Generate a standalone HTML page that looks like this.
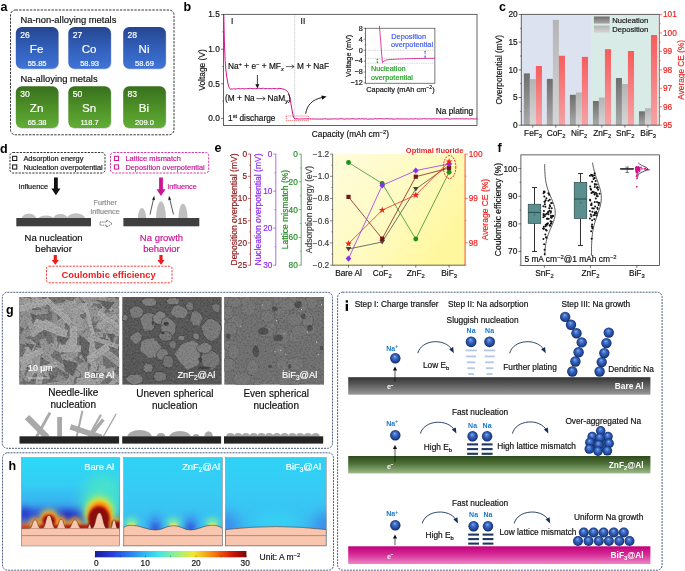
<!DOCTYPE html>
<html><head><meta charset="utf-8"><title>figure</title>
<style>html,body{margin:0;padding:0;background:#fff;}svg{display:block;will-change:transform;}text{font-family:"Liberation Sans",sans-serif;}</style></head>
<body>
<svg width="685" height="571" viewBox="0 0 685 571" font-family="Liberation Sans, sans-serif">
<defs>
<linearGradient id="gBlue" x1="0" y1="0" x2="0" y2="1"><stop offset="0" stop-color="#25468f"/><stop offset="0.55" stop-color="#3361bd"/><stop offset="1" stop-color="#3f74d6"/></linearGradient>
<linearGradient id="gGreen" x1="0" y1="0" x2="0" y2="1"><stop offset="0" stop-color="#38701d"/><stop offset="0.55" stop-color="#4f9328"/><stop offset="1" stop-color="#62ad36"/></linearGradient>
<linearGradient id="gNuc" x1="0" y1="0" x2="0" y2="1"><stop offset="0" stop-color="#6e6e6e"/><stop offset="1" stop-color="#a9a9a9"/></linearGradient>
<linearGradient id="gDep" x1="0" y1="0" x2="0" y2="1"><stop offset="0" stop-color="#b4b4b4"/><stop offset="1" stop-color="#d6d6d6"/></linearGradient>
<linearGradient id="gCE" x1="0" y1="0" x2="0" y2="1"><stop offset="0" stop-color="#f75c5c"/><stop offset="1" stop-color="#f5a3a6"/></linearGradient>
<linearGradient id="gYel" x1="0" y1="0" x2="1" y2="0.6"><stop offset="0" stop-color="#fffcdc"/><stop offset="0.55" stop-color="#fffbc2"/><stop offset="1" stop-color="#fff79d"/></linearGradient>
<filter id="fNoise" x="0" y="0" width="100%" height="100%"><feTurbulence type="fractalNoise" baseFrequency="0.55" numOctaves="2" seed="7"/><feColorMatrix type="matrix" values="1.6 0 0 0 -0.3  1.6 0 0 0 -0.3  1.6 0 0 0 -0.3  0 0 0 0 0.22"/></filter>
<filter id="fBlur06"><feGaussianBlur stdDeviation="0.6"/></filter>
<filter id="fBlur04"><feGaussianBlur stdDeviation="0.4"/></filter>
<filter id="fBlur1"><feGaussianBlur stdDeviation="1.0"/></filter>
<clipPath id="cS0"><rect x="19.2" y="297.0" width="100.0" height="87.80000000000001"/></clipPath>
<clipPath id="cS1"><rect x="122.2" y="297.0" width="99.60000000000001" height="87.80000000000001"/></clipPath>
<clipPath id="cS2"><rect x="224.2" y="297.0" width="100.0" height="87.80000000000001"/></clipPath>
<clipPath id="cN"><rect x="15" y="405" width="110" height="31.6"/></clipPath>
<clipPath id="cH0"><rect x="21.4" y="457.4" width="98.30000000000001" height="88.60000000000002"/></clipPath>
<clipPath id="cH1"><rect x="123.6" y="457.4" width="98.9" height="88.60000000000002"/></clipPath>
<clipPath id="cH2"><rect x="225.4" y="457.4" width="100.9" height="88.60000000000002"/></clipPath>
<linearGradient id="gCy" x1="0" y1="0" x2="0" y2="1"><stop offset="0" stop-color="#2fd3f6"/><stop offset="0.45" stop-color="#38c9f4"/><stop offset="1" stop-color="#3bb4f0"/></linearGradient>
<linearGradient id="gCy1" x1="0" y1="0" x2="0" y2="1"><stop offset="0" stop-color="#2cd8f6"/><stop offset="0.3" stop-color="#33cef5"/><stop offset="0.5" stop-color="#38b2f0"/><stop offset="0.66" stop-color="#3a86e6"/><stop offset="0.8" stop-color="#3a6ee0"/><stop offset="1" stop-color="#3a6ee0"/></linearGradient>
<filter id="fB1_2" x="-50%" y="-50%" width="200%" height="200%"><feGaussianBlur stdDeviation="1.2"/></filter>
<filter id="fB2_0" x="-50%" y="-50%" width="200%" height="200%"><feGaussianBlur stdDeviation="2.0"/></filter>
<filter id="fB3_0" x="-50%" y="-50%" width="200%" height="200%"><feGaussianBlur stdDeviation="3.0"/></filter>
<filter id="fB4_5" x="-50%" y="-50%" width="200%" height="200%"><feGaussianBlur stdDeviation="4.5"/></filter>
<filter id="fB6_5" x="-50%" y="-50%" width="200%" height="200%"><feGaussianBlur stdDeviation="6.5"/></filter>
<linearGradient id="gJet" x1="0" y1="0" x2="1" y2="0"><stop offset="0" stop-color="#1a1a9e"/><stop offset="0.12" stop-color="#2740e0"/><stop offset="0.3" stop-color="#2fa8f5"/><stop offset="0.42" stop-color="#3fe6e6"/><stop offset="0.55" stop-color="#a0f080"/><stop offset="0.65" stop-color="#f4e830"/><stop offset="0.78" stop-color="#f88010"/><stop offset="0.9" stop-color="#d81808"/><stop offset="1" stop-color="#7a0606"/></linearGradient>
<radialGradient id="gSph" cx="0.5" cy="0.5" fx="0.44" fy="0.3" r="0.52"><stop offset="0" stop-color="#8fb4f2"/><stop offset="0.22" stop-color="#5583d8"/><stop offset="0.5" stop-color="#315fb8"/><stop offset="0.78" stop-color="#1f4594"/><stop offset="1" stop-color="#0e2250"/></radialGradient>
<linearGradient id="gBarGy" x1="0" y1="0" x2="0" y2="1"><stop offset="0" stop-color="#333333"/><stop offset="0.45" stop-color="#5e5e5e"/><stop offset="1" stop-color="#9a9a9a"/></linearGradient>
<linearGradient id="gBarGn" x1="0" y1="0" x2="0" y2="1"><stop offset="0" stop-color="#2c4a1c"/><stop offset="0.45" stop-color="#4f7238"/><stop offset="1" stop-color="#9cb98a"/></linearGradient>
<linearGradient id="gBarPk" x1="0" y1="0" x2="0" y2="1"><stop offset="0" stop-color="#c00078"/><stop offset="0.45" stop-color="#d62a96"/><stop offset="1" stop-color="#ee84c8"/></linearGradient>
</defs>
<rect x="0" y="0" width="685" height="571" fill="#fff"/>
<text x="0.5" y="10.5" font-size="12.5" fill="#000" font-weight="bold">a</text>
<rect x="10.5" y="10" width="163.5" height="124.8" fill="none" stroke="#111" stroke-width="0.85" rx="5" stroke-dasharray="2.4 1.2"/>
<text x="20.5" y="22.7" font-size="9.4" fill="#111" stroke="#111" stroke-width="0.18">Na-non-alloying metals</text>
<text x="20.5" y="82.2" font-size="9.4" fill="#111" stroke="#111" stroke-width="0.18">Na-alloying metals</text>
<rect x="16.400000000000002" y="27.8" width="42.6" height="41.8" fill="#000" stroke="none" stroke-width="0.6" rx="6" opacity="0.18"/>
<rect x="15.8" y="27.0" width="42.6" height="41.8" fill="url(#gBlue)" stroke="none" stroke-width="0.6" rx="6"/>
<text x="20.200000000000003" y="37.6" font-size="8.6" fill="#fff" stroke="#fff" stroke-width="0.18">26</text>
<text x="36.6" y="52.6" font-size="11.6" fill="#fff" stroke="#fff" stroke-width="0.18" text-anchor="middle">Fe</text>
<text x="37.1" y="65.8" font-size="7.5" fill="#fff" stroke="#fff" stroke-width="0.18" text-anchor="middle">55.85</text>
<rect x="68.89999999999999" y="27.8" width="42.6" height="41.8" fill="#000" stroke="none" stroke-width="0.6" rx="6" opacity="0.18"/>
<rect x="68.3" y="27.0" width="42.6" height="41.8" fill="url(#gBlue)" stroke="none" stroke-width="0.6" rx="6"/>
<text x="72.7" y="37.6" font-size="8.6" fill="#fff" stroke="#fff" stroke-width="0.18">27</text>
<text x="89.1" y="52.6" font-size="11.6" fill="#fff" stroke="#fff" stroke-width="0.18" text-anchor="middle">Co</text>
<text x="89.6" y="65.8" font-size="7.5" fill="#fff" stroke="#fff" stroke-width="0.18" text-anchor="middle">58.93</text>
<rect x="123.8" y="27.8" width="42.6" height="41.8" fill="#000" stroke="none" stroke-width="0.6" rx="6" opacity="0.18"/>
<rect x="123.2" y="27.0" width="42.6" height="41.8" fill="url(#gBlue)" stroke="none" stroke-width="0.6" rx="6"/>
<text x="127.60000000000001" y="37.6" font-size="8.6" fill="#fff" stroke="#fff" stroke-width="0.18">28</text>
<text x="144.0" y="52.6" font-size="11.6" fill="#fff" stroke="#fff" stroke-width="0.18" text-anchor="middle">Ni</text>
<text x="144.5" y="65.8" font-size="7.5" fill="#fff" stroke="#fff" stroke-width="0.18" text-anchor="middle">58.69</text>
<rect x="16.400000000000002" y="87.0" width="42.6" height="41.8" fill="#000" stroke="none" stroke-width="0.6" rx="6" opacity="0.18"/>
<rect x="15.8" y="86.2" width="42.6" height="41.8" fill="url(#gGreen)" stroke="none" stroke-width="0.6" rx="6"/>
<text x="20.200000000000003" y="96.8" font-size="8.6" fill="#fff" stroke="#fff" stroke-width="0.18">30</text>
<text x="36.6" y="111.80000000000001" font-size="11.6" fill="#fff" stroke="#fff" stroke-width="0.18" text-anchor="middle">Zn</text>
<text x="37.1" y="125.0" font-size="7.5" fill="#fff" stroke="#fff" stroke-width="0.18" text-anchor="middle">65.38</text>
<rect x="68.89999999999999" y="87.0" width="42.6" height="41.8" fill="#000" stroke="none" stroke-width="0.6" rx="6" opacity="0.18"/>
<rect x="68.3" y="86.2" width="42.6" height="41.8" fill="url(#gGreen)" stroke="none" stroke-width="0.6" rx="6"/>
<text x="72.7" y="96.8" font-size="8.6" fill="#fff" stroke="#fff" stroke-width="0.18">50</text>
<text x="89.1" y="111.80000000000001" font-size="11.6" fill="#fff" stroke="#fff" stroke-width="0.18" text-anchor="middle">Sn</text>
<text x="89.6" y="125.0" font-size="7.5" fill="#fff" stroke="#fff" stroke-width="0.18" text-anchor="middle">118.7</text>
<rect x="123.8" y="87.0" width="42.6" height="41.8" fill="#000" stroke="none" stroke-width="0.6" rx="6" opacity="0.18"/>
<rect x="123.2" y="86.2" width="42.6" height="41.8" fill="url(#gGreen)" stroke="none" stroke-width="0.6" rx="6"/>
<text x="127.60000000000001" y="96.8" font-size="8.6" fill="#fff" stroke="#fff" stroke-width="0.18">83</text>
<text x="144.0" y="111.80000000000001" font-size="11.6" fill="#fff" stroke="#fff" stroke-width="0.18" text-anchor="middle">Bi</text>
<text x="144.5" y="125.0" font-size="7.5" fill="#fff" stroke="#fff" stroke-width="0.18" text-anchor="middle">209.0</text>
<text x="183.5" y="10.5" font-size="12.5" fill="#000" font-weight="bold">b</text>
<line x1="294.7" y1="14.3" x2="294.7" y2="125.5" stroke="#888" stroke-width="0.5" stroke-dasharray="1 1"/>
<rect x="223.6" y="14.3" width="253.4" height="111.2" fill="none" stroke="#222" stroke-width="0.7"/>
<line x1="221.0" y1="14.6" x2="223.6" y2="14.6" stroke="#222" stroke-width="0.6"/>
<text x="219.79999999999998" y="17.3" font-size="8.3" fill="#111" stroke="#111" stroke-width="0.18" text-anchor="end">1.5</text>
<line x1="221.0" y1="49.2" x2="223.6" y2="49.2" stroke="#222" stroke-width="0.6"/>
<text x="219.79999999999998" y="51.900000000000006" font-size="8.3" fill="#111" stroke="#111" stroke-width="0.18" text-anchor="end">1.0</text>
<line x1="221.0" y1="83.8" x2="223.6" y2="83.8" stroke="#222" stroke-width="0.6"/>
<text x="219.79999999999998" y="86.5" font-size="8.3" fill="#111" stroke="#111" stroke-width="0.18" text-anchor="end">0.5</text>
<line x1="221.0" y1="118.4" x2="223.6" y2="118.4" stroke="#222" stroke-width="0.6"/>
<text x="219.79999999999998" y="121.10000000000001" font-size="8.3" fill="#111" stroke="#111" stroke-width="0.18" text-anchor="end">0.0</text>
<line x1="222.2" y1="31.9" x2="223.6" y2="31.9" stroke="#222" stroke-width="0.5"/>
<line x1="222.2" y1="66.5" x2="223.6" y2="66.5" stroke="#222" stroke-width="0.5"/>
<line x1="222.2" y1="101.1" x2="223.6" y2="101.1" stroke="#222" stroke-width="0.5"/>
<text x="205.3" y="70" font-size="8.4" fill="#111" stroke="#111" stroke-width="0.18" text-anchor="middle" transform="rotate(-90 205.3 70)">Voltage (V)</text>
<text x="231.0" y="24.3" font-size="8.3" fill="#111" stroke="#111" stroke-width="0.18">I</text>
<text x="300.6" y="24.3" font-size="8.3" fill="#111" stroke="#111" stroke-width="0.18">II</text>
<path d="M223.8,14.5 L224.1,30 L224.4,42 L225.1,60.3 L225.9,70 L226.8,77 L227.8,83 L228.8,86.8 L229.6,88.6 L230.4,89.2 L231.0,88.87 L232.3,88.99 L233.6,88.87 L234.9,88.95 L236.2,88.93 L237.5,88.62 L238.8,88.56 L240.1,88.94 L241.4,88.62 L242.7,88.57 L244.0,88.92 L245.3,88.63 L246.6,88.78 L247.9,88.57 L249.2,88.61 L250.5,88.34 L251.8,88.57 L253.1,88.68 L254.4,88.51 L255.7,88.62 L257.0,88.59 L258.3,88.28 L259.6,88.63 L260.9,88.55 L262.2,88.4 L263.5,88.27 L264.8,88.68 L266.1,88.49 L267.4,88.61 L268.7,88.69 L270.0,88.61 L271.3,88.71 L272.6,88.45 L273.9,88.65 L275.2,88.47 L276.5,88.72 L277.8,88.69 L279.1,88.3 L282,88.8 L284.5,89.4 L286.5,90.5 L288.0,92.3 L289.1,94.8 L290.2,99.5 L291.2,105 L292.2,111 L293.1,115.6 L294.0,118.0 L295.2,119.0 L296,118.74 L297.7,118.78 L299.4,119.1 L301.1,118.87 L302.8,118.96 L304.5,118.81 L306.2,118.9 L307.9,118.85 L309.6,118.83 L311.3,118.94 L313.0,118.94 L314.7,119.08 L316.4,118.98 L318.1,119.09 L319.8,119.06 L321.5,119.12 L323.2,118.98 L324.9,118.75 L326.6,119.06 L328.3,119.1 L330.0,119.08 L331.7,118.93 L333.4,118.99 L335.1,118.77 L336.8,119.05 L338.5,118.93 L340.2,118.81 L341.9,118.71 L343.6,119.06 L345.3,119.12 L347.0,118.72 L348.7,119.03 L350.4,118.86 L352.1,118.75 L353.8,118.81 L355.5,119.02 L357.2,119.06 L358.9,118.7 L360.6,118.95 L362.3,118.7 L364.0,119.0 L365.7,118.83 L367.4,119.07 L369.1,119.11 L370.8,118.9 L372.5,119.12 L374.2,118.82 L375.9,118.71 L377.6,118.94 L379.3,118.69 L381.0,118.77 L382.7,118.86 L384.4,118.95 L386.1,118.75 L387.8,118.7 L389.5,119.06 L391.2,118.82 L392.9,119.1 L394.6,119.07 L396.3,118.85 L398.0,118.88 L399.7,118.91 L401.4,118.96 L403.1,118.94 L404.8,118.93 L406.5,118.95 L408.2,119.09 L409.9,118.9 L411.6,118.87 L413.3,119.0 L415.0,118.78 L416.7,118.81 L418.4,119.11 L420.1,118.91 L421.8,118.92 L423.5,118.69 L425.2,118.86 L426.9,118.94 L428.6,118.69 L430.3,118.95 L432.0,118.96 L433.7,118.71 L435.4,118.96 L437.1,118.89 L438.8,118.98 L440.5,118.84 L442.2,118.99 L443.9,119.0 L445.6,118.69 L447.3,118.71 L449.0,118.98 L450.7,119.1 L452.4,118.79 L454.1,118.88 L455.8,118.94 L457.5,118.82 L459.2,118.84 L460.9,118.82 L462.6,118.84 L464.3,118.94 L466.0,118.81 L467.7,118.85 L469.4,119.02 L471.1,118.69 L472.8,118.93 L474.5,119.0 L476.2,118.82 L477.5,118.9" fill="none" stroke="#d4148c" stroke-width="1.0" stroke-linejoin="round"/>
<text x="228.0" y="69.3" font-size="8.3" fill="#111" stroke="#111" stroke-width="0.18">Na<tspan dy="-2.99" font-size="5.81">+</tspan><tspan dy="2.99" font-size="0.1">&#8203;</tspan> + e<tspan dy="-2.99" font-size="5.81">&#8722;</tspan><tspan dy="2.99" font-size="0.1">&#8203;</tspan> + MF<tspan dy="1.66" font-size="5.81"><tspan font-style="italic">x</tspan></tspan><tspan dy="-1.66" font-size="0.1">&#8203;</tspan></text>
<text x="297.0" y="69.3" font-size="8.3" fill="#111" stroke="#111" stroke-width="0.18">M + NaF</text>
<path d="M285.8,66.6 H294.0 M291.6,64.8 L294.2,66.6 L291.6,68.4" fill="none" stroke="#111" stroke-width="0.65"/>
<line x1="257.4" y1="75.0" x2="257.4" y2="85.0" stroke="#111" stroke-width="0.8"/>
<path d="M255.4,84.2 L257.4,88.6 L259.4,84.2 Z" fill="#111" stroke="none" stroke-width="0.6"/>
<text x="225.0" y="101.3" font-size="8.3" fill="#111" stroke="#111" stroke-width="0.18">(M + Na</text>
<text x="267.6" y="101.3" font-size="8.3" fill="#111" stroke="#111" stroke-width="0.18">NaM<tspan dy="1.66" font-size="5.81"><tspan font-style="italic">y</tspan></tspan><tspan dy="-1.66" font-size="0.1">&#8203;</tspan>)</text>
<path d="M256.4,98.6 H265.0 M262.6,96.8 L265.2,98.6 L262.6,100.4" fill="none" stroke="#111" stroke-width="0.65"/>
<text x="228.0" y="120.9" font-size="8.3" fill="#111" stroke="#111" stroke-width="0.18">1<tspan dy="-2.99" font-size="5.81">st</tspan><tspan dy="2.99" font-size="0.1">&#8203;</tspan> discharge</text>
<rect x="286.3" y="116.0" width="22.0" height="4.6" fill="none" stroke="#e8211d" stroke-width="0.6" stroke-dasharray="1.2 0.8"/>
<path d="M305.7,113.8 C306.8,105.5 312,99.5 322.5,97.4" fill="none" stroke="#111" stroke-width="0.9"/>
<path d="M321.3,95.4 L326.6,96.6 L322.2,99.7 Z" fill="#111" stroke="none" stroke-width="0.6"/>
<text x="311.8" y="137.3" font-size="8.3" fill="#111" stroke="#111" stroke-width="0.18">Capacity (mAh cm<tspan dy="-2.99" font-size="5.81">&#8722;2</tspan><tspan dy="2.99" font-size="0.1">&#8203;</tspan>)</text>
<text x="435.8" y="114.4" font-size="8.3" fill="#111" stroke="#111" stroke-width="0.18">Na plating</text>
<rect x="365.6" y="28.2" width="69.29999999999995" height="55.0" fill="#fff" stroke="#222" stroke-width="0.6"/>
<line x1="363.6" y1="28.3" x2="365.6" y2="28.3" stroke="#222" stroke-width="0.5"/>
<text x="362.8" y="30.6" font-size="7.2" fill="#111" stroke="#111" stroke-width="0.18" text-anchor="end">8</text>
<line x1="363.6" y1="39.2" x2="365.6" y2="39.2" stroke="#222" stroke-width="0.5"/>
<text x="362.8" y="41.5" font-size="7.2" fill="#111" stroke="#111" stroke-width="0.18" text-anchor="end">4</text>
<line x1="363.6" y1="50.2" x2="365.6" y2="50.2" stroke="#222" stroke-width="0.5"/>
<text x="362.8" y="52.5" font-size="7.2" fill="#111" stroke="#111" stroke-width="0.18" text-anchor="end">0</text>
<line x1="363.6" y1="61.1" x2="365.6" y2="61.1" stroke="#222" stroke-width="0.5"/>
<text x="362.8" y="63.4" font-size="7.2" fill="#111" stroke="#111" stroke-width="0.18" text-anchor="end">&#8722;4</text>
<line x1="363.6" y1="72.0" x2="365.6" y2="72.0" stroke="#222" stroke-width="0.5"/>
<text x="362.8" y="74.3" font-size="7.2" fill="#111" stroke="#111" stroke-width="0.18" text-anchor="end">&#8722;8</text>
<line x1="363.6" y1="82.9" x2="365.6" y2="82.9" stroke="#222" stroke-width="0.5"/>
<text x="362.8" y="85.2" font-size="7.2" fill="#111" stroke="#111" stroke-width="0.18" text-anchor="end">&#8722;12</text>
<line x1="364.5" y1="33.7" x2="365.6" y2="33.7" stroke="#222" stroke-width="0.4"/>
<line x1="364.5" y1="44.7" x2="365.6" y2="44.7" stroke="#222" stroke-width="0.4"/>
<line x1="364.5" y1="55.6" x2="365.6" y2="55.6" stroke="#222" stroke-width="0.4"/>
<line x1="364.5" y1="66.5" x2="365.6" y2="66.5" stroke="#222" stroke-width="0.4"/>
<line x1="364.5" y1="77.5" x2="365.6" y2="77.5" stroke="#222" stroke-width="0.4"/>
<text x="351.0" y="55.8" font-size="7.3" fill="#111" stroke="#111" stroke-width="0.18" text-anchor="middle" transform="rotate(-90 351.0 55.8)">Voltage (mV)</text>
<text x="366.3" y="92.0" font-size="7.35" fill="#111" stroke="#111" stroke-width="0.18">Capacity (mAh cm<tspan dy="-2.65" font-size="5.14">&#8722;2</tspan><tspan dy="2.65" font-size="0.1">&#8203;</tspan>)</text>
<line x1="365.6" y1="50.2" x2="434.9" y2="50.2" stroke="#999" stroke-width="0.45" stroke-dasharray="1.3 1"/>
<line x1="365.6" y1="58.3" x2="434.9" y2="58.3" stroke="#999" stroke-width="0.45" stroke-dasharray="1.3 1"/>
<line x1="365.6" y1="63.2" x2="434.9" y2="63.2" stroke="#999" stroke-width="0.45" stroke-dasharray="1.3 1"/>
<path d="M379.4,25.8 L380.6,40 L381.8,56 L382.6,62.6 L383.6,61.4 L385.5,60.2 L389,59.6 L396,59.2 L405,58.8 L415,58.5 L425,58.4 L434.9,58.3" fill="none" stroke="#d4148c" stroke-width="0.8" stroke-linejoin="round"/>
<text x="391.3" y="38.8" font-size="7.35" fill="#3b57f5" stroke="#3b57f5" stroke-width="0.18">Deposition</text>
<text x="391.0" y="47.4" font-size="7.35" fill="#3b57f5" stroke="#3b57f5" stroke-width="0.18">overpotential</text>
<text x="370.9" y="71.1" font-size="7.35" fill="#1f9e1f" stroke="#1f9e1f" stroke-width="0.18">Nucleation</text>
<text x="370.9" y="80.2" font-size="7.35" fill="#1f9e1f" stroke="#1f9e1f" stroke-width="0.18">overpotential</text>
<line x1="425.1" y1="51.3" x2="425.1" y2="57.3" stroke="#3b57f5" stroke-width="0.8" stroke-dasharray="1 0.7"/>
<path d="M424.0,52.2 L425.1,50.4 L426.2,52.2 Z M424.0,56.4 L425.1,58.2 L426.2,56.4 Z" fill="#3b57f5" stroke="none" stroke-width="0.6"/>
<line x1="377.3" y1="59.4" x2="377.3" y2="62.6" stroke="#1f9e1f" stroke-width="0.8" stroke-dasharray="1 0.7"/>
<path d="M376.3,59.9 L377.3,58.5 L378.3,59.9 Z M376.3,62 L377.3,63.4 L378.3,62 Z" fill="#1f9e1f" stroke="none" stroke-width="0.6"/>
<text x="499" y="10.5" font-size="12.5" fill="#000" font-weight="bold">c</text>
<rect x="521.3" y="14.4" width="69.70000000000005" height="110.8" fill="#dde2f0" stroke="none" stroke-width="0.6"/>
<rect x="591.0" y="14.4" width="68.39999999999998" height="110.8" fill="#d9ebe6" stroke="none" stroke-width="0.6"/>
<rect x="523.8499999999999" y="73.4" width="6.0" height="51.8" fill="url(#gNuc)" stroke="none" stroke-width="0.6"/>
<rect x="529.8499999999999" y="79.1" width="6.0" height="46.10000000000001" fill="url(#gDep)" stroke="none" stroke-width="0.6"/>
<rect x="535.8499999999999" y="66.0" width="6.1" height="59.2" fill="url(#gCE)" stroke="none" stroke-width="0.6"/>
<rect x="546.8699999999999" y="78.9" width="6.0" height="46.3" fill="url(#gNuc)" stroke="none" stroke-width="0.6"/>
<rect x="552.8699999999999" y="19.9" width="6.0" height="105.30000000000001" fill="url(#gDep)" stroke="none" stroke-width="0.6"/>
<rect x="558.8699999999999" y="55.8" width="6.1" height="69.4" fill="url(#gCE)" stroke="none" stroke-width="0.6"/>
<rect x="569.8899999999999" y="94.8" width="6.0" height="30.400000000000006" fill="url(#gNuc)" stroke="none" stroke-width="0.6"/>
<rect x="575.8899999999999" y="92.5" width="6.0" height="32.7" fill="url(#gDep)" stroke="none" stroke-width="0.6"/>
<rect x="581.8899999999999" y="56.9" width="6.1" height="68.30000000000001" fill="url(#gCE)" stroke="none" stroke-width="0.6"/>
<rect x="592.9099999999999" y="101.0" width="6.0" height="24.200000000000003" fill="url(#gNuc)" stroke="none" stroke-width="0.6"/>
<rect x="598.9099999999999" y="97.6" width="6.0" height="27.60000000000001" fill="url(#gDep)" stroke="none" stroke-width="0.6"/>
<rect x="604.9099999999999" y="49.2" width="6.1" height="76.0" fill="url(#gCE)" stroke="none" stroke-width="0.6"/>
<rect x="615.93" y="78.0" width="6.0" height="47.2" fill="url(#gNuc)" stroke="none" stroke-width="0.6"/>
<rect x="621.93" y="84.0" width="6.0" height="41.2" fill="url(#gDep)" stroke="none" stroke-width="0.6"/>
<rect x="627.93" y="51.0" width="6.1" height="74.2" fill="url(#gCE)" stroke="none" stroke-width="0.6"/>
<rect x="638.9499999999999" y="111.3" width="6.0" height="13.900000000000006" fill="url(#gNuc)" stroke="none" stroke-width="0.6"/>
<rect x="644.9499999999999" y="108.2" width="6.0" height="17.0" fill="url(#gDep)" stroke="none" stroke-width="0.6"/>
<rect x="650.9499999999999" y="35.0" width="6.1" height="90.2" fill="url(#gCE)" stroke="none" stroke-width="0.6"/>
<line x1="521.3" y1="14.4" x2="659.4" y2="14.4" stroke="#222" stroke-width="0.7"/>
<line x1="521.3" y1="125.2" x2="659.4" y2="125.2" stroke="#222" stroke-width="0.7"/>
<line x1="521.3" y1="14.05" x2="521.3" y2="125.55" stroke="#222" stroke-width="0.7"/>
<line x1="659.4" y1="14.05" x2="659.4" y2="125.55" stroke="#f0221e" stroke-width="0.8"/>
<line x1="518.6999999999999" y1="14.5" x2="521.3" y2="14.5" stroke="#222" stroke-width="0.6"/>
<text x="517.6999999999999" y="17.4" font-size="8.3" fill="#111" stroke="#111" stroke-width="0.18" text-anchor="end">20</text>
<line x1="518.6999999999999" y1="42.2" x2="521.3" y2="42.2" stroke="#222" stroke-width="0.6"/>
<text x="517.6999999999999" y="45.1" font-size="8.3" fill="#111" stroke="#111" stroke-width="0.18" text-anchor="end">15</text>
<line x1="518.6999999999999" y1="69.9" x2="521.3" y2="69.9" stroke="#222" stroke-width="0.6"/>
<text x="517.6999999999999" y="72.80000000000001" font-size="8.3" fill="#111" stroke="#111" stroke-width="0.18" text-anchor="end">10</text>
<line x1="518.6999999999999" y1="97.5" x2="521.3" y2="97.5" stroke="#222" stroke-width="0.6"/>
<text x="517.6999999999999" y="100.4" font-size="8.3" fill="#111" stroke="#111" stroke-width="0.18" text-anchor="end">5</text>
<line x1="518.6999999999999" y1="125.2" x2="521.3" y2="125.2" stroke="#222" stroke-width="0.6"/>
<text x="517.6999999999999" y="128.1" font-size="8.3" fill="#111" stroke="#111" stroke-width="0.18" text-anchor="end">0</text>
<line x1="519.9" y1="28.3" x2="521.3" y2="28.3" stroke="#222" stroke-width="0.5"/>
<line x1="519.9" y1="56.0" x2="521.3" y2="56.0" stroke="#222" stroke-width="0.5"/>
<line x1="519.9" y1="83.7" x2="521.3" y2="83.7" stroke="#222" stroke-width="0.5"/>
<line x1="519.9" y1="111.4" x2="521.3" y2="111.4" stroke="#222" stroke-width="0.5"/>
<line x1="659.4" y1="14.5" x2="662.0" y2="14.5" stroke="#f0221e" stroke-width="0.6"/>
<text x="663.0" y="17.4" font-size="8.3" fill="#f0221e" stroke="#f0221e" stroke-width="0.18">101</text>
<line x1="659.4" y1="32.95" x2="662.0" y2="32.95" stroke="#f0221e" stroke-width="0.6"/>
<text x="663.0" y="35.85" font-size="8.3" fill="#f0221e" stroke="#f0221e" stroke-width="0.18">100</text>
<line x1="659.4" y1="51.4" x2="662.0" y2="51.4" stroke="#f0221e" stroke-width="0.6"/>
<text x="663.0" y="54.3" font-size="8.3" fill="#f0221e" stroke="#f0221e" stroke-width="0.18">99</text>
<line x1="659.4" y1="69.85" x2="662.0" y2="69.85" stroke="#f0221e" stroke-width="0.6"/>
<text x="663.0" y="72.75" font-size="8.3" fill="#f0221e" stroke="#f0221e" stroke-width="0.18">98</text>
<line x1="659.4" y1="88.3" x2="662.0" y2="88.3" stroke="#f0221e" stroke-width="0.6"/>
<text x="663.0" y="91.2" font-size="8.3" fill="#f0221e" stroke="#f0221e" stroke-width="0.18">97</text>
<line x1="659.4" y1="106.75" x2="662.0" y2="106.75" stroke="#f0221e" stroke-width="0.6"/>
<text x="663.0" y="109.65" font-size="8.3" fill="#f0221e" stroke="#f0221e" stroke-width="0.18">96</text>
<line x1="659.4" y1="125.19999999999999" x2="662.0" y2="125.19999999999999" stroke="#f0221e" stroke-width="0.6"/>
<text x="663.0" y="128.1" font-size="8.3" fill="#f0221e" stroke="#f0221e" stroke-width="0.18">95</text>
<line x1="659.4" y1="23.72" x2="660.8" y2="23.72" stroke="#f0221e" stroke-width="0.5"/>
<line x1="659.4" y1="42.17" x2="660.8" y2="42.17" stroke="#f0221e" stroke-width="0.5"/>
<line x1="659.4" y1="60.62" x2="660.8" y2="60.62" stroke="#f0221e" stroke-width="0.5"/>
<line x1="659.4" y1="79.07" x2="660.8" y2="79.07" stroke="#f0221e" stroke-width="0.5"/>
<line x1="659.4" y1="97.52" x2="660.8" y2="97.52" stroke="#f0221e" stroke-width="0.5"/>
<line x1="659.4" y1="115.97" x2="660.8" y2="115.97" stroke="#f0221e" stroke-width="0.5"/>
<line x1="532.8" y1="125.2" x2="532.8" y2="127.60000000000001" stroke="#222" stroke-width="0.6"/>
<text x="533.0999999999999" y="136.0" font-size="8.3" fill="#111" stroke="#111" stroke-width="0.18" text-anchor="middle">FeF<tspan dy="1.66" font-size="5.81">3</tspan><tspan dy="-1.66" font-size="0.1">&#8203;</tspan></text>
<line x1="555.8199999999999" y1="125.2" x2="555.8199999999999" y2="127.60000000000001" stroke="#222" stroke-width="0.6"/>
<text x="556.1199999999999" y="136.0" font-size="8.3" fill="#111" stroke="#111" stroke-width="0.18" text-anchor="middle">CoF<tspan dy="1.66" font-size="5.81">2</tspan><tspan dy="-1.66" font-size="0.1">&#8203;</tspan></text>
<line x1="578.8399999999999" y1="125.2" x2="578.8399999999999" y2="127.60000000000001" stroke="#222" stroke-width="0.6"/>
<text x="579.1399999999999" y="136.0" font-size="8.3" fill="#111" stroke="#111" stroke-width="0.18" text-anchor="middle">NiF<tspan dy="1.66" font-size="5.81">2</tspan><tspan dy="-1.66" font-size="0.1">&#8203;</tspan></text>
<line x1="601.8599999999999" y1="125.2" x2="601.8599999999999" y2="127.60000000000001" stroke="#222" stroke-width="0.6"/>
<text x="602.1599999999999" y="136.0" font-size="8.3" fill="#111" stroke="#111" stroke-width="0.18" text-anchor="middle">ZnF<tspan dy="1.66" font-size="5.81">2</tspan><tspan dy="-1.66" font-size="0.1">&#8203;</tspan></text>
<line x1="624.88" y1="125.2" x2="624.88" y2="127.60000000000001" stroke="#222" stroke-width="0.6"/>
<text x="625.18" y="136.0" font-size="8.3" fill="#111" stroke="#111" stroke-width="0.18" text-anchor="middle">SnF<tspan dy="1.66" font-size="5.81">2</tspan><tspan dy="-1.66" font-size="0.1">&#8203;</tspan></text>
<line x1="647.9" y1="125.2" x2="647.9" y2="127.60000000000001" stroke="#222" stroke-width="0.6"/>
<text x="648.1999999999999" y="136.0" font-size="8.3" fill="#111" stroke="#111" stroke-width="0.18" text-anchor="middle">BiF<tspan dy="1.66" font-size="5.81">3</tspan><tspan dy="-1.66" font-size="0.1">&#8203;</tspan></text>
<text x="502.3" y="69.8" font-size="8.3" fill="#111" stroke="#111" stroke-width="0.18" text-anchor="middle" transform="rotate(-90 502.3 69.8)">Overpotential (mV)</text>
<text x="684.3" y="69.8" font-size="8.3" fill="#f0221e" stroke="#f0221e" stroke-width="0.18" text-anchor="middle" transform="rotate(-90 684.3 69.8)">Average CE (%)</text>
<rect x="593.9" y="16.5" width="15.8" height="7.1" fill="url(#gNuc)" stroke="none" stroke-width="0.6"/>
<rect x="593.9" y="25.6" width="15.8" height="7.1" fill="url(#gDep)" stroke="none" stroke-width="0.6"/>
<text x="612.3" y="23.0" font-size="7.6" fill="#111" stroke="#111" stroke-width="0.18">Nucleation</text>
<text x="612.3" y="32.1" font-size="7.6" fill="#111" stroke="#111" stroke-width="0.18">Deposition</text>
<text x="0.1" y="153.0" font-size="12.5" fill="#000" font-weight="bold">d</text>
<rect x="10.0" y="152.5" width="95.0" height="20.5" fill="none" stroke="#111" stroke-width="0.85" rx="3" stroke-dasharray="2.2 1.2"/>
<rect x="110.5" y="152.5" width="98.2" height="20.5" fill="none" stroke="#cc1494" stroke-width="0.85" rx="3" stroke-dasharray="2.2 1.2"/>
<rect x="12.6" y="156.3" width="4.2" height="4.2" fill="none" stroke="#111" stroke-width="1.0"/>
<rect x="114.4" y="156.3" width="4.2" height="4.2" fill="none" stroke="#cc1494" stroke-width="1.0"/>
<rect x="12.6" y="164.9" width="4.2" height="4.2" fill="none" stroke="#111" stroke-width="1.0"/>
<rect x="114.4" y="164.9" width="4.2" height="4.2" fill="none" stroke="#cc1494" stroke-width="1.0"/>
<text x="23.4" y="161.3" font-size="7.4" fill="#111" stroke="#111" stroke-width="0.18">Adsorption energy</text>
<text x="23.4" y="169.9" font-size="7.4" fill="#111" stroke="#111" stroke-width="0.18">Nucleation overpotential</text>
<text x="125.4" y="161.3" font-size="7.4" fill="#cc1494" stroke="#cc1494" stroke-width="0.18">Lattice mismatch</text>
<text x="125.4" y="169.9" font-size="7.4" fill="#cc1494" stroke="#cc1494" stroke-width="0.18">Deposition overpotential</text>
<path d="M54.0,177.6 h3.8 v11.0 h2.6 l-4.5,6.6 l-4.5,-6.6 h2.6 Z" fill="#111" stroke="none" stroke-width="0.6"/>
<path d="M159.1,177.6 h3.8 v11.6 h2.6 l-4.5,6.8 l-4.5,-6.8 h2.6 Z" fill="#cc1494" stroke="none" stroke-width="0.6"/>
<text x="18.8" y="188.6" font-size="7.3" fill="#111" stroke="#111" stroke-width="0.18">influence</text>
<text x="167.6" y="188.6" font-size="7.3" fill="#cc1494" stroke="#cc1494" stroke-width="0.18">influence</text>
<path d="M21.8,219 A7.2,5.6 0 0 1 36.2,219 Z" fill="#bfbfbf" stroke="none" stroke-width="0.6"/>
<path d="M38.4,219 A7.6,3.4 0 0 1 53.6,219 Z" fill="#bfbfbf" stroke="none" stroke-width="0.6"/>
<path d="M53.1,219 A7.4,5.0 0 0 1 67.9,219 Z" fill="#bfbfbf" stroke="none" stroke-width="0.6"/>
<path d="M66.8,219 A9.2,5.8 0 0 1 85.2,219 Z" fill="#bfbfbf" stroke="none" stroke-width="0.6"/>
<rect x="16.3" y="218.0" width="74.7" height="8.3" fill="#3f3f3f" stroke="none" stroke-width="0.6"/>
<path d="M137.8,219 A4.2,11.0 0 0 1 146.2,219 Z" fill="#bfbfbf" stroke="none" stroke-width="0.6"/>
<path d="M156.0,219 A5.0,17.5 0 0 1 166.0,219 Z" fill="#bfbfbf" stroke="none" stroke-width="0.6"/>
<path d="M178.4,219 A4.6,15.2 0 0 1 187.6,219 Z" fill="#bfbfbf" stroke="none" stroke-width="0.6"/>
<rect x="123.4" y="218.0" width="75.9" height="8.3" fill="#3f3f3f" stroke="none" stroke-width="0.6"/>
<line x1="150.0" y1="214.5" x2="153.6" y2="198.5" stroke="#111" stroke-width="0.7"/>
<path d="M152.2,199.6 L154.2,195.8 L154.9,200.2 Z" fill="#111" stroke="none" stroke-width="0.6"/>
<line x1="173.5" y1="214.5" x2="169.6" y2="198.5" stroke="#111" stroke-width="0.7"/>
<path d="M168.3,200.2 L169.0,195.8 L171.0,199.6 Z" fill="#111" stroke="none" stroke-width="0.6"/>
<text x="105.2" y="205.3" font-size="7.3" fill="#8c8c8c" stroke="#8c8c8c" stroke-width="0.18" text-anchor="middle">Further</text>
<text x="105.2" y="213.9" font-size="7.3" fill="#8c8c8c" stroke="#8c8c8c" stroke-width="0.18" text-anchor="middle">influence</text>
<path d="M100.0,222.0 h6.6 v-2.0 l5.6,3.6 l-5.6,3.6 v-2.0 h-6.6 Z" fill="#fff" stroke="#222" stroke-width="0.6" stroke-dasharray="1.5 0.7"/>
<text x="53.6" y="240.5" font-size="9.5" fill="#111" stroke="#111" stroke-width="0.18" text-anchor="middle">Na nucleation</text>
<text x="53.6" y="251.6" font-size="9.5" fill="#111" stroke="#111" stroke-width="0.18" text-anchor="middle">behavior</text>
<text x="161.5" y="240.5" font-size="9.5" fill="#cc1494" stroke="#cc1494" stroke-width="0.18" text-anchor="middle">Na growth</text>
<text x="161.5" y="251.6" font-size="9.5" fill="#cc1494" stroke="#cc1494" stroke-width="0.18" text-anchor="middle">behavior</text>
<path d="M53.699999999999996,255.0 h3.2 v5.0 h2.0 l-3.6,4.8 l-3.6,-4.8 h2.0 Z" fill="#ee1c1c" stroke="none" stroke-width="0.6"/>
<path d="M159.4,255.0 h3.2 v5.0 h2.0 l-3.6,4.8 l-3.6,-4.8 h2.0 Z" fill="#ee1c1c" stroke="none" stroke-width="0.6"/>
<rect x="46.5" y="266.2" width="125.5" height="16.6" fill="none" stroke="#ee1c1c" stroke-width="0.85" rx="2.5" stroke-dasharray="2.2 1.2"/>
<text x="108.6" y="277.6" font-size="9.4" fill="#ee1c1c" font-weight="bold" text-anchor="middle">Coulombic efficiency</text>
<text x="214.5" y="152.3" font-size="12.5" fill="#000" font-weight="bold">e</text>
<rect x="332.6" y="154.1" width="132.5" height="111.1" fill="url(#gYel)" stroke="none" stroke-width="0.6"/>
<line x1="250.5" y1="153.79999999999998" x2="250.5" y2="265.5" stroke="#8e1a1a" stroke-width="0.7"/>
<line x1="247.9" y1="154.1" x2="250.5" y2="154.1" stroke="#8e1a1a" stroke-width="0.6"/>
<text x="247.1" y="157.0" font-size="8.3" fill="#8e1a1a" stroke="#8e1a1a" stroke-width="0.18" text-anchor="end">0</text>
<line x1="247.9" y1="176.32" x2="250.5" y2="176.32" stroke="#8e1a1a" stroke-width="0.6"/>
<text x="247.1" y="179.22" font-size="8.3" fill="#8e1a1a" stroke="#8e1a1a" stroke-width="0.18" text-anchor="end">5</text>
<line x1="247.9" y1="198.54" x2="250.5" y2="198.54" stroke="#8e1a1a" stroke-width="0.6"/>
<text x="247.1" y="201.44" font-size="8.3" fill="#8e1a1a" stroke="#8e1a1a" stroke-width="0.18" text-anchor="end">10</text>
<line x1="247.9" y1="220.76" x2="250.5" y2="220.76" stroke="#8e1a1a" stroke-width="0.6"/>
<text x="247.1" y="223.66" font-size="8.3" fill="#8e1a1a" stroke="#8e1a1a" stroke-width="0.18" text-anchor="end">15</text>
<line x1="247.9" y1="242.98" x2="250.5" y2="242.98" stroke="#8e1a1a" stroke-width="0.6"/>
<text x="247.1" y="245.88" font-size="8.3" fill="#8e1a1a" stroke="#8e1a1a" stroke-width="0.18" text-anchor="end">20</text>
<line x1="247.9" y1="265.2" x2="250.5" y2="265.2" stroke="#8e1a1a" stroke-width="0.6"/>
<text x="247.1" y="268.09999999999997" font-size="8.3" fill="#8e1a1a" stroke="#8e1a1a" stroke-width="0.18" text-anchor="end">25</text>
<line x1="249.1" y1="165.20999999999998" x2="250.5" y2="165.20999999999998" stroke="#8e1a1a" stroke-width="0.5"/>
<line x1="249.1" y1="187.43" x2="250.5" y2="187.43" stroke="#8e1a1a" stroke-width="0.5"/>
<line x1="249.1" y1="209.64999999999998" x2="250.5" y2="209.64999999999998" stroke="#8e1a1a" stroke-width="0.5"/>
<line x1="249.1" y1="231.87" x2="250.5" y2="231.87" stroke="#8e1a1a" stroke-width="0.5"/>
<line x1="249.1" y1="254.08999999999997" x2="250.5" y2="254.08999999999997" stroke="#8e1a1a" stroke-width="0.5"/>
<text x="237.0" y="209.5" font-size="8.5" fill="#8e1a1a" stroke="#8e1a1a" stroke-width="0.18" text-anchor="middle" transform="rotate(-90 237.0 209.5)">Deposition overpotential (mV)</text>
<line x1="275.8" y1="153.79999999999998" x2="275.8" y2="265.5" stroke="#8d2df0" stroke-width="0.7"/>
<line x1="273.2" y1="154.1" x2="275.8" y2="154.1" stroke="#8d2df0" stroke-width="0.6"/>
<text x="272.40000000000003" y="157.0" font-size="8.3" fill="#8d2df0" stroke="#8d2df0" stroke-width="0.18" text-anchor="end">0</text>
<line x1="273.2" y1="191.13333333333333" x2="275.8" y2="191.13333333333333" stroke="#8d2df0" stroke-width="0.6"/>
<text x="272.40000000000003" y="194.03333333333333" font-size="8.3" fill="#8d2df0" stroke="#8d2df0" stroke-width="0.18" text-anchor="end">10</text>
<line x1="273.2" y1="228.16666666666666" x2="275.8" y2="228.16666666666666" stroke="#8d2df0" stroke-width="0.6"/>
<text x="272.40000000000003" y="231.06666666666666" font-size="8.3" fill="#8d2df0" stroke="#8d2df0" stroke-width="0.18" text-anchor="end">20</text>
<line x1="273.2" y1="265.2" x2="275.8" y2="265.2" stroke="#8d2df0" stroke-width="0.6"/>
<text x="272.40000000000003" y="268.09999999999997" font-size="8.3" fill="#8d2df0" stroke="#8d2df0" stroke-width="0.18" text-anchor="end">30</text>
<line x1="274.40000000000003" y1="172.61666666666667" x2="275.8" y2="172.61666666666667" stroke="#8d2df0" stroke-width="0.5"/>
<line x1="274.40000000000003" y1="209.64999999999998" x2="275.8" y2="209.64999999999998" stroke="#8d2df0" stroke-width="0.5"/>
<line x1="274.40000000000003" y1="246.68333333333334" x2="275.8" y2="246.68333333333334" stroke="#8d2df0" stroke-width="0.5"/>
<text x="261.4" y="209.5" font-size="8.5" fill="#8d2df0" stroke="#8d2df0" stroke-width="0.18" text-anchor="middle" transform="rotate(-90 261.4 209.5)">Nucleation overpotential (mV)</text>
<line x1="301.2" y1="153.79999999999998" x2="301.2" y2="265.5" stroke="#2a8c2a" stroke-width="0.7"/>
<line x1="298.59999999999997" y1="154.1" x2="301.2" y2="154.1" stroke="#2a8c2a" stroke-width="0.6"/>
<text x="297.8" y="157.0" font-size="8.3" fill="#2a8c2a" stroke="#2a8c2a" stroke-width="0.18" text-anchor="end">0</text>
<line x1="298.59999999999997" y1="181.875" x2="301.2" y2="181.875" stroke="#2a8c2a" stroke-width="0.6"/>
<text x="297.8" y="184.775" font-size="8.3" fill="#2a8c2a" stroke="#2a8c2a" stroke-width="0.18" text-anchor="end">20</text>
<line x1="298.59999999999997" y1="209.64999999999998" x2="301.2" y2="209.64999999999998" stroke="#2a8c2a" stroke-width="0.6"/>
<text x="297.8" y="212.54999999999998" font-size="8.3" fill="#2a8c2a" stroke="#2a8c2a" stroke-width="0.18" text-anchor="end">40</text>
<line x1="298.59999999999997" y1="237.425" x2="301.2" y2="237.425" stroke="#2a8c2a" stroke-width="0.6"/>
<text x="297.8" y="240.32500000000002" font-size="8.3" fill="#2a8c2a" stroke="#2a8c2a" stroke-width="0.18" text-anchor="end">60</text>
<line x1="298.59999999999997" y1="265.2" x2="301.2" y2="265.2" stroke="#2a8c2a" stroke-width="0.6"/>
<text x="297.8" y="268.09999999999997" font-size="8.3" fill="#2a8c2a" stroke="#2a8c2a" stroke-width="0.18" text-anchor="end">80</text>
<line x1="299.8" y1="167.98749999999998" x2="301.2" y2="167.98749999999998" stroke="#2a8c2a" stroke-width="0.5"/>
<line x1="299.8" y1="195.7625" x2="301.2" y2="195.7625" stroke="#2a8c2a" stroke-width="0.5"/>
<line x1="299.8" y1="223.5375" x2="301.2" y2="223.5375" stroke="#2a8c2a" stroke-width="0.5"/>
<line x1="299.8" y1="251.3125" x2="301.2" y2="251.3125" stroke="#2a8c2a" stroke-width="0.5"/>
<text x="287.6" y="209.5" font-size="8.5" fill="#2a8c2a" stroke="#2a8c2a" stroke-width="0.18" text-anchor="middle" transform="rotate(-90 287.6 209.5)">Lattice mismatch (%)</text>
<line x1="332.6" y1="153.79999999999998" x2="332.6" y2="265.5" stroke="#404040" stroke-width="0.7"/>
<line x1="330.0" y1="154.1" x2="332.6" y2="154.1" stroke="#404040" stroke-width="0.6"/>
<text x="329.20000000000005" y="157.0" font-size="8.3" fill="#404040" stroke="#404040" stroke-width="0.18" text-anchor="end">&#8722;1.2</text>
<line x1="330.0" y1="176.32" x2="332.6" y2="176.32" stroke="#404040" stroke-width="0.6"/>
<text x="329.20000000000005" y="179.22" font-size="8.3" fill="#404040" stroke="#404040" stroke-width="0.18" text-anchor="end">&#8722;1.0</text>
<line x1="330.0" y1="198.54" x2="332.6" y2="198.54" stroke="#404040" stroke-width="0.6"/>
<text x="329.20000000000005" y="201.44" font-size="8.3" fill="#404040" stroke="#404040" stroke-width="0.18" text-anchor="end">&#8722;0.8</text>
<line x1="330.0" y1="220.76" x2="332.6" y2="220.76" stroke="#404040" stroke-width="0.6"/>
<text x="329.20000000000005" y="223.66" font-size="8.3" fill="#404040" stroke="#404040" stroke-width="0.18" text-anchor="end">&#8722;0.6</text>
<line x1="330.0" y1="242.97999999999996" x2="332.6" y2="242.97999999999996" stroke="#404040" stroke-width="0.6"/>
<text x="329.20000000000005" y="245.87999999999997" font-size="8.3" fill="#404040" stroke="#404040" stroke-width="0.18" text-anchor="end">&#8722;0.4</text>
<line x1="330.0" y1="265.2" x2="332.6" y2="265.2" stroke="#404040" stroke-width="0.6"/>
<text x="329.20000000000005" y="268.09999999999997" font-size="8.3" fill="#404040" stroke="#404040" stroke-width="0.18" text-anchor="end">&#8722;0.2</text>
<line x1="331.20000000000005" y1="165.21" x2="332.6" y2="165.21" stroke="#404040" stroke-width="0.5"/>
<line x1="331.20000000000005" y1="187.43" x2="332.6" y2="187.43" stroke="#404040" stroke-width="0.5"/>
<line x1="331.20000000000005" y1="209.65" x2="332.6" y2="209.65" stroke="#404040" stroke-width="0.5"/>
<line x1="331.20000000000005" y1="231.87" x2="332.6" y2="231.87" stroke="#404040" stroke-width="0.5"/>
<line x1="331.20000000000005" y1="254.09" x2="332.6" y2="254.09" stroke="#404040" stroke-width="0.5"/>
<text x="312.4" y="209.5" font-size="8.5" fill="#404040" stroke="#404040" stroke-width="0.18" text-anchor="middle" transform="rotate(-90 312.4 209.5)">Adsorption energy (eV)</text>
<line x1="332.6" y1="265.2" x2="465.1" y2="265.2" stroke="#222" stroke-width="0.7"/>
<line x1="465.1" y1="153.79999999999998" x2="465.1" y2="265.5" stroke="#f0221e" stroke-width="0.8"/>
<line x1="465.1" y1="154.1" x2="467.70000000000005" y2="154.1" stroke="#f0221e" stroke-width="0.6"/>
<text x="468.70000000000005" y="157.0" font-size="8.3" fill="#f0221e" stroke="#f0221e" stroke-width="0.18">100</text>
<line x1="465.1" y1="198.4" x2="467.70000000000005" y2="198.4" stroke="#f0221e" stroke-width="0.6"/>
<text x="468.70000000000005" y="201.3" font-size="8.3" fill="#f0221e" stroke="#f0221e" stroke-width="0.18">99</text>
<line x1="465.1" y1="242.8" x2="467.70000000000005" y2="242.8" stroke="#f0221e" stroke-width="0.6"/>
<text x="468.70000000000005" y="245.70000000000002" font-size="8.3" fill="#f0221e" stroke="#f0221e" stroke-width="0.18">98</text>
<line x1="465.1" y1="176.2" x2="466.5" y2="176.2" stroke="#f0221e" stroke-width="0.5"/>
<line x1="465.1" y1="220.6" x2="466.5" y2="220.6" stroke="#f0221e" stroke-width="0.5"/>
<line x1="465.1" y1="265.0" x2="466.5" y2="265.0" stroke="#f0221e" stroke-width="0.5"/>
<text x="487.8" y="209.5" font-size="8.5" fill="#f0221e" stroke="#f0221e" stroke-width="0.18" text-anchor="middle" transform="rotate(-90 487.8 209.5)">Average CE (%)</text>
<line x1="348.5" y1="265.2" x2="348.5" y2="267.59999999999997" stroke="#222" stroke-width="0.6"/>
<text x="348.5" y="275.9" font-size="8.3" fill="#111" stroke="#111" stroke-width="0.18" text-anchor="middle">Bare Al</text>
<line x1="382.2" y1="265.2" x2="382.2" y2="267.59999999999997" stroke="#222" stroke-width="0.6"/>
<text x="382.2" y="275.9" font-size="8.3" fill="#111" stroke="#111" stroke-width="0.18" text-anchor="middle">CoF<tspan dy="1.66" font-size="5.81">2</tspan><tspan dy="-1.66" font-size="0.1">&#8203;</tspan></text>
<line x1="415.8" y1="265.2" x2="415.8" y2="267.59999999999997" stroke="#222" stroke-width="0.6"/>
<text x="415.8" y="275.9" font-size="8.3" fill="#111" stroke="#111" stroke-width="0.18" text-anchor="middle">ZnF<tspan dy="1.66" font-size="5.81">2</tspan><tspan dy="-1.66" font-size="0.1">&#8203;</tspan></text>
<line x1="449.1" y1="265.2" x2="449.1" y2="267.59999999999997" stroke="#222" stroke-width="0.6"/>
<text x="449.1" y="275.9" font-size="8.3" fill="#111" stroke="#111" stroke-width="0.18" text-anchor="middle">BiF<tspan dy="1.66" font-size="5.81">3</tspan><tspan dy="-1.66" font-size="0.1">&#8203;</tspan></text>
<path d="M348.5,249.0 L382.2,242.0 L415.8,189.0 L449.1,165.3" fill="none" stroke="#444" stroke-width="0.75"/>
<path d="M345.7,247.0 h5.6 l-2.8,4.6 Z" fill="#444" stroke="none" stroke-width="0.6"/>
<path d="M379.4,240.0 h5.6 l-2.8,4.6 Z" fill="#444" stroke="none" stroke-width="0.6"/>
<path d="M413.0,187.0 h5.6 l-2.8,4.6 Z" fill="#444" stroke="none" stroke-width="0.6"/>
<path d="M446.3,163.3 h5.6 l-2.8,4.6 Z" fill="#444" stroke="none" stroke-width="0.6"/>
<path d="M348.5,162.5 L382.2,183.5 L415.8,239.0 L449.1,172.3" fill="none" stroke="#2a8c2a" stroke-width="0.75"/>
<circle cx="348.5" cy="162.5" r="2.45" fill="#1f8f1f" stroke="none" stroke-width="0.5"/>
<circle cx="382.2" cy="183.5" r="2.45" fill="#1f8f1f" stroke="none" stroke-width="0.5"/>
<circle cx="415.8" cy="239.0" r="2.45" fill="#1f8f1f" stroke="none" stroke-width="0.5"/>
<circle cx="449.1" cy="172.3" r="2.45" fill="#1f8f1f" stroke="none" stroke-width="0.5"/>
<path d="M348.5,196.9 L382.2,238.7 L415.8,176.7 L449.1,168.1" fill="none" stroke="#7a1414" stroke-width="0.75"/>
<rect x="346.4" y="194.8" width="4.2" height="4.2" fill="#7a1414" stroke="none" stroke-width="0.6"/>
<rect x="380.09999999999997" y="236.6" width="4.2" height="4.2" fill="#7a1414" stroke="none" stroke-width="0.6"/>
<rect x="413.7" y="174.6" width="4.2" height="4.2" fill="#7a1414" stroke="none" stroke-width="0.6"/>
<rect x="447.0" y="166.0" width="4.2" height="4.2" fill="#7a1414" stroke="none" stroke-width="0.6"/>
<path d="M348.5,258.6 L382.2,185.4 L415.8,170.6 L449.1,163.9" fill="none" stroke="#8d2df0" stroke-width="0.75"/>
<path d="M348.5,255.50000000000003 l2.8,3.1 l-2.8,3.1 l-2.8,-3.1 Z" fill="#8d2df0" stroke="none" stroke-width="0.6"/>
<path d="M382.2,182.3 l2.8,3.1 l-2.8,3.1 l-2.8,-3.1 Z" fill="#8d2df0" stroke="none" stroke-width="0.6"/>
<path d="M415.8,167.5 l2.8,3.1 l-2.8,3.1 l-2.8,-3.1 Z" fill="#8d2df0" stroke="none" stroke-width="0.6"/>
<path d="M449.1,160.8 l2.8,3.1 l-2.8,3.1 l-2.8,-3.1 Z" fill="#8d2df0" stroke="none" stroke-width="0.6"/>
<path d="M348.5,243.7 L382.2,210.1 L415.8,195.0 L449.1,161.6" fill="none" stroke="#f0221e" stroke-width="0.75"/>
<path d="M348.50,240.10 L349.35,242.53 L351.92,242.59 L349.88,244.15 L350.62,246.61 L348.50,245.15 L346.38,246.61 L347.12,244.15 L345.08,242.59 L347.65,242.53 Z" fill="#f0221e" stroke="none" stroke-width="0.6"/>
<path d="M382.20,206.50 L383.05,208.93 L385.62,208.99 L383.58,210.55 L384.32,213.01 L382.20,211.55 L380.08,213.01 L380.82,210.55 L378.78,208.99 L381.35,208.93 Z" fill="#f0221e" stroke="none" stroke-width="0.6"/>
<path d="M415.80,191.40 L416.65,193.83 L419.22,193.89 L417.18,195.45 L417.92,197.91 L415.80,196.45 L413.68,197.91 L414.42,195.45 L412.38,193.89 L414.95,193.83 Z" fill="#f0221e" stroke="none" stroke-width="0.6"/>
<path d="M449.10,158.00 L449.95,160.43 L452.52,160.49 L450.48,162.05 L451.22,164.51 L449.10,163.05 L446.98,164.51 L447.72,162.05 L445.68,160.49 L448.25,160.43 Z" fill="#f0221e" stroke="none" stroke-width="0.6"/>
<ellipse cx="449.6" cy="167.0" rx="6.2" ry="11.5" fill="none" stroke="#f0221e" stroke-width="1.0" stroke-dasharray="1.8 1.1"/>
<text x="405.8" y="153.0" font-size="7.5" fill="#f0221e" font-weight="bold">Optimal fluoride</text>
<text x="497.5" y="152.4" font-size="12.5" fill="#000" font-weight="bold">f</text>
<rect x="520.9" y="154.9" width="138.70000000000005" height="110.6" fill="none" stroke="#222" stroke-width="0.7"/>
<line x1="518.3" y1="168.6" x2="520.9" y2="168.6" stroke="#222" stroke-width="0.6"/>
<text x="517.3" y="171.5" font-size="8.3" fill="#111" stroke="#111" stroke-width="0.18" text-anchor="end">100</text>
<line x1="518.3" y1="196.23" x2="520.9" y2="196.23" stroke="#222" stroke-width="0.6"/>
<text x="517.3" y="199.13" font-size="8.3" fill="#111" stroke="#111" stroke-width="0.18" text-anchor="end">90</text>
<line x1="518.3" y1="223.85999999999999" x2="520.9" y2="223.85999999999999" stroke="#222" stroke-width="0.6"/>
<text x="517.3" y="226.76" font-size="8.3" fill="#111" stroke="#111" stroke-width="0.18" text-anchor="end">80</text>
<line x1="518.3" y1="251.49" x2="520.9" y2="251.49" stroke="#222" stroke-width="0.6"/>
<text x="517.3" y="254.39000000000001" font-size="8.3" fill="#111" stroke="#111" stroke-width="0.18" text-anchor="end">70</text>
<line x1="519.5" y1="182.415" x2="520.9" y2="182.415" stroke="#222" stroke-width="0.5"/>
<line x1="519.5" y1="210.045" x2="520.9" y2="210.045" stroke="#222" stroke-width="0.5"/>
<line x1="519.5" y1="237.675" x2="520.9" y2="237.675" stroke="#222" stroke-width="0.5"/>
<line x1="519.5" y1="265.305" x2="520.9" y2="265.305" stroke="#222" stroke-width="0.5"/>
<text x="501.3" y="209.5" font-size="8.5" fill="#111" stroke="#111" stroke-width="0.18" text-anchor="middle" transform="rotate(-90 501.3 209.5)">Coulombic efficiency (%)</text>
<line x1="544.4" y1="265.5" x2="544.4" y2="267.9" stroke="#222" stroke-width="0.6"/>
<text x="544.4" y="276.2" font-size="8.3" fill="#111" stroke="#111" stroke-width="0.18" text-anchor="middle">SnF<tspan dy="1.66" font-size="5.81">2</tspan><tspan dy="-1.66" font-size="0.1">&#8203;</tspan></text>
<line x1="590.5" y1="265.5" x2="590.5" y2="267.9" stroke="#222" stroke-width="0.6"/>
<text x="590.5" y="276.2" font-size="8.3" fill="#111" stroke="#111" stroke-width="0.18" text-anchor="middle">ZnF<tspan dy="1.66" font-size="5.81">2</tspan><tspan dy="-1.66" font-size="0.1">&#8203;</tspan></text>
<line x1="636.8" y1="265.5" x2="636.8" y2="267.9" stroke="#222" stroke-width="0.6"/>
<text x="636.8" y="276.2" font-size="8.3" fill="#111" stroke="#111" stroke-width="0.18" text-anchor="middle">BiF<tspan dy="1.66" font-size="5.81">3</tspan><tspan dy="-1.66" font-size="0.1">&#8203;</tspan></text>
<text x="524.4" y="262.0" font-size="8.4" fill="#111" stroke="#111" stroke-width="0.18">5 mA cm<tspan dy="-3.02" font-size="5.88">&#8722;2</tspan><tspan dy="3.02" font-size="0.1">&#8203;</tspan>@1 mAh cm<tspan dy="-3.02" font-size="5.88">&#8722;2</tspan><tspan dy="3.02" font-size="0.1">&#8203;</tspan></text>
<line x1="534.5" y1="187.5" x2="534.5" y2="204.2" stroke="#333" stroke-width="1.0"/>
<line x1="534.5" y1="223.5" x2="534.5" y2="251.5" stroke="#333" stroke-width="1.0"/>
<line x1="532.0" y1="187.5" x2="537.0" y2="187.5" stroke="#333" stroke-width="1.0"/>
<line x1="532.0" y1="251.5" x2="537.0" y2="251.5" stroke="#333" stroke-width="1.0"/>
<rect x="528.2" y="204.2" width="12.6" height="19.30000000000001" fill="#5b8e8e" stroke="#1e3c3c" stroke-width="0.6"/>
<line x1="528.2" y1="212.4" x2="540.8" y2="212.4" stroke="#1e3c3c" stroke-width="0.8"/>
<rect x="533.9" y="214.4" width="1.2" height="1.2" fill="none" stroke="#2f6f6f" stroke-width="0.35"/>
<line x1="580.5" y1="173.5" x2="580.5" y2="182.3" stroke="#333" stroke-width="1.0"/>
<line x1="580.5" y1="218.5" x2="580.5" y2="245.5" stroke="#333" stroke-width="1.0"/>
<line x1="578.0" y1="173.5" x2="583.0" y2="173.5" stroke="#333" stroke-width="1.0"/>
<line x1="578.0" y1="245.5" x2="583.0" y2="245.5" stroke="#333" stroke-width="1.0"/>
<rect x="574.2" y="182.3" width="12.6" height="36.19999999999999" fill="#5b8e8e" stroke="#1e3c3c" stroke-width="0.6"/>
<line x1="574.2" y1="199.0" x2="586.8" y2="199.0" stroke="#1e3c3c" stroke-width="0.8"/>
<rect x="579.9" y="202.1" width="1.2" height="1.2" fill="none" stroke="#2f6f6f" stroke-width="0.35"/>
<circle cx="548.32" cy="193.21" r="1.0" fill="#111" stroke="none" stroke-width="0.5"/>
<circle cx="547.56" cy="218.84" r="1.0" fill="#111" stroke="none" stroke-width="0.5"/>
<circle cx="543.97" cy="191.54" r="1.0" fill="#111" stroke="none" stroke-width="0.5"/>
<circle cx="548.31" cy="211.75" r="1.0" fill="#111" stroke="none" stroke-width="0.5"/>
<circle cx="543.55" cy="193.35" r="1.0" fill="#111" stroke="none" stroke-width="0.5"/>
<circle cx="544.64" cy="192.11" r="1.0" fill="#111" stroke="none" stroke-width="0.5"/>
<circle cx="545.99" cy="237.34" r="1.0" fill="#111" stroke="none" stroke-width="0.5"/>
<circle cx="543.29" cy="228.52" r="1.0" fill="#111" stroke="none" stroke-width="0.5"/>
<circle cx="544.7" cy="253.93" r="1.0" fill="#111" stroke="none" stroke-width="0.5"/>
<circle cx="549.18" cy="208.18" r="1.0" fill="#111" stroke="none" stroke-width="0.5"/>
<circle cx="548.47" cy="214.33" r="1.0" fill="#111" stroke="none" stroke-width="0.5"/>
<circle cx="543.61" cy="215.13" r="1.0" fill="#111" stroke="none" stroke-width="0.5"/>
<circle cx="543.3" cy="217.17" r="1.0" fill="#111" stroke="none" stroke-width="0.5"/>
<circle cx="546.95" cy="223.88" r="1.0" fill="#111" stroke="none" stroke-width="0.5"/>
<circle cx="547.4" cy="224.03" r="1.0" fill="#111" stroke="none" stroke-width="0.5"/>
<circle cx="548.46" cy="200.82" r="1.0" fill="#111" stroke="none" stroke-width="0.5"/>
<circle cx="546.4" cy="198.27" r="1.0" fill="#111" stroke="none" stroke-width="0.5"/>
<circle cx="551.86" cy="203.0" r="1.0" fill="#111" stroke="none" stroke-width="0.5"/>
<circle cx="545.45" cy="226.28" r="1.0" fill="#111" stroke="none" stroke-width="0.5"/>
<circle cx="544.21" cy="191.63" r="1.0" fill="#111" stroke="none" stroke-width="0.5"/>
<circle cx="550.94" cy="211.32" r="1.0" fill="#111" stroke="none" stroke-width="0.5"/>
<circle cx="546.93" cy="218.72" r="1.0" fill="#111" stroke="none" stroke-width="0.5"/>
<circle cx="551.72" cy="221.82" r="1.0" fill="#111" stroke="none" stroke-width="0.5"/>
<circle cx="549.72" cy="199.81" r="1.0" fill="#111" stroke="none" stroke-width="0.5"/>
<circle cx="550.79" cy="223.78" r="1.0" fill="#111" stroke="none" stroke-width="0.5"/>
<circle cx="547.89" cy="212.84" r="1.0" fill="#111" stroke="none" stroke-width="0.5"/>
<circle cx="543.51" cy="228.78" r="1.0" fill="#111" stroke="none" stroke-width="0.5"/>
<circle cx="549.5" cy="210.82" r="1.0" fill="#111" stroke="none" stroke-width="0.5"/>
<circle cx="543.9" cy="215.06" r="1.0" fill="#111" stroke="none" stroke-width="0.5"/>
<circle cx="545.69" cy="200.32" r="1.0" fill="#111" stroke="none" stroke-width="0.5"/>
<circle cx="543.46" cy="239.07" r="1.0" fill="#111" stroke="none" stroke-width="0.5"/>
<circle cx="545.41" cy="206.77" r="1.0" fill="#111" stroke="none" stroke-width="0.5"/>
<circle cx="551.01" cy="217.33" r="1.0" fill="#111" stroke="none" stroke-width="0.5"/>
<circle cx="544.81" cy="216.14" r="1.0" fill="#111" stroke="none" stroke-width="0.5"/>
<circle cx="544.31" cy="196.57" r="1.0" fill="#111" stroke="none" stroke-width="0.5"/>
<circle cx="550.12" cy="206.46" r="1.0" fill="#111" stroke="none" stroke-width="0.5"/>
<circle cx="543.82" cy="228.43" r="1.0" fill="#111" stroke="none" stroke-width="0.5"/>
<circle cx="545.8" cy="229.65" r="1.0" fill="#111" stroke="none" stroke-width="0.5"/>
<circle cx="552.96" cy="215.73" r="1.0" fill="#111" stroke="none" stroke-width="0.5"/>
<circle cx="549.54" cy="225.14" r="1.0" fill="#111" stroke="none" stroke-width="0.5"/>
<circle cx="544.79" cy="201.7" r="1.0" fill="#111" stroke="none" stroke-width="0.5"/>
<circle cx="544.14" cy="244.16" r="1.0" fill="#111" stroke="none" stroke-width="0.5"/>
<circle cx="543.76" cy="226.78" r="1.0" fill="#111" stroke="none" stroke-width="0.5"/>
<circle cx="549.15" cy="194.63" r="1.0" fill="#111" stroke="none" stroke-width="0.5"/>
<circle cx="550.93" cy="215.63" r="1.0" fill="#111" stroke="none" stroke-width="0.5"/>
<circle cx="545.71" cy="224.84" r="1.0" fill="#111" stroke="none" stroke-width="0.5"/>
<circle cx="543.93" cy="211.01" r="1.0" fill="#111" stroke="none" stroke-width="0.5"/>
<circle cx="548.71" cy="218.78" r="1.0" fill="#111" stroke="none" stroke-width="0.5"/>
<circle cx="546.86" cy="213.75" r="1.0" fill="#111" stroke="none" stroke-width="0.5"/>
<circle cx="545.32" cy="234.48" r="1.0" fill="#111" stroke="none" stroke-width="0.5"/>
<circle cx="546.64" cy="230.59" r="1.0" fill="#111" stroke="none" stroke-width="0.5"/>
<circle cx="551.69" cy="208.13" r="1.0" fill="#111" stroke="none" stroke-width="0.5"/>
<circle cx="552.23" cy="216.59" r="1.0" fill="#111" stroke="none" stroke-width="0.5"/>
<circle cx="550.57" cy="221.25" r="1.0" fill="#111" stroke="none" stroke-width="0.5"/>
<circle cx="550.69" cy="212.83" r="1.0" fill="#111" stroke="none" stroke-width="0.5"/>
<circle cx="551.21" cy="223.18" r="1.0" fill="#111" stroke="none" stroke-width="0.5"/>
<circle cx="550.02" cy="225.7" r="1.0" fill="#111" stroke="none" stroke-width="0.5"/>
<circle cx="544.57" cy="249.8" r="1.0" fill="#111" stroke="none" stroke-width="0.5"/>
<circle cx="543.37" cy="206.2" r="1.0" fill="#111" stroke="none" stroke-width="0.5"/>
<circle cx="552.81" cy="216.35" r="1.0" fill="#111" stroke="none" stroke-width="0.5"/>
<circle cx="545.66" cy="214.62" r="1.0" fill="#111" stroke="none" stroke-width="0.5"/>
<circle cx="546.47" cy="237.72" r="1.0" fill="#111" stroke="none" stroke-width="0.5"/>
<circle cx="544.5" cy="201.84" r="1.0" fill="#111" stroke="none" stroke-width="0.5"/>
<circle cx="549.82" cy="205.2" r="1.0" fill="#111" stroke="none" stroke-width="0.5"/>
<circle cx="547.87" cy="223.26" r="1.0" fill="#111" stroke="none" stroke-width="0.5"/>
<circle cx="551.53" cy="217.63" r="1.0" fill="#111" stroke="none" stroke-width="0.5"/>
<circle cx="551.17" cy="203.03" r="1.0" fill="#111" stroke="none" stroke-width="0.5"/>
<circle cx="544.88" cy="204.26" r="1.0" fill="#111" stroke="none" stroke-width="0.5"/>
<circle cx="546.59" cy="225.4" r="1.0" fill="#111" stroke="none" stroke-width="0.5"/>
<circle cx="543.63" cy="214.12" r="1.0" fill="#111" stroke="none" stroke-width="0.5"/>
<path d="M544.66,164.20 L544.68,165.70 L544.71,167.20 L544.75,168.70 L544.80,170.20 L544.86,171.70 L544.94,173.20 L545.04,174.70 L545.16,176.20 L545.31,177.70 L545.49,179.20 L545.70,180.70 L545.96,182.20 L546.26,183.70 L546.60,185.20 L546.99,186.70 L547.42,188.20 L547.91,189.70 L548.43,191.20 L549.00,192.70 L549.60,194.20 L550.22,195.70 L550.86,197.20 L551.50,198.70 L552.13,200.20 L552.74,201.70 L553.31,203.20 L553.83,204.70 L554.28,206.20 L554.65,207.70 L554.93,209.20 L555.12,210.70 L555.20,212.20 L555.17,213.70 L555.04,215.20 L554.81,216.70 L554.49,218.20 L554.08,219.70 L553.59,221.20 L553.05,222.70 L552.46,224.20 L551.84,225.70 L551.20,227.20 L550.56,228.70 L549.93,230.20 L549.31,231.70 L548.73,233.20 L548.18,234.70 L547.67,236.20 L547.21,237.70 L546.80,239.20 L546.43,240.70 L546.11,242.20 L545.84,243.70 L545.60,245.20 L545.40,246.70 L545.23,248.20 L545.10,249.70 L544.99,251.20 L544.90,252.70 L544.83,254.20 L544.77,255.70" fill="none" stroke="#111" stroke-width="0.7"/>
<circle cx="595.12" cy="206.43" r="1.0" fill="#111" stroke="none" stroke-width="0.5"/>
<circle cx="590.78" cy="214.38" r="1.0" fill="#111" stroke="none" stroke-width="0.5"/>
<circle cx="594.64" cy="173.27" r="1.0" fill="#111" stroke="none" stroke-width="0.5"/>
<circle cx="592.38" cy="228.17" r="1.0" fill="#111" stroke="none" stroke-width="0.5"/>
<circle cx="591.08" cy="189.65" r="1.0" fill="#111" stroke="none" stroke-width="0.5"/>
<circle cx="589.99" cy="175.64" r="1.0" fill="#111" stroke="none" stroke-width="0.5"/>
<circle cx="591.62" cy="238.86" r="1.0" fill="#111" stroke="none" stroke-width="0.5"/>
<circle cx="599.23" cy="203.06" r="1.0" fill="#111" stroke="none" stroke-width="0.5"/>
<circle cx="592.08" cy="224.57" r="1.0" fill="#111" stroke="none" stroke-width="0.5"/>
<circle cx="597.03" cy="202.0" r="1.0" fill="#111" stroke="none" stroke-width="0.5"/>
<circle cx="594.31" cy="219.2" r="1.0" fill="#111" stroke="none" stroke-width="0.5"/>
<circle cx="597.7" cy="209.09" r="1.0" fill="#111" stroke="none" stroke-width="0.5"/>
<circle cx="597.72" cy="196.16" r="1.0" fill="#111" stroke="none" stroke-width="0.5"/>
<circle cx="595.09" cy="213.33" r="1.0" fill="#111" stroke="none" stroke-width="0.5"/>
<circle cx="598.04" cy="189.73" r="1.0" fill="#111" stroke="none" stroke-width="0.5"/>
<circle cx="596.23" cy="211.76" r="1.0" fill="#111" stroke="none" stroke-width="0.5"/>
<circle cx="596.68" cy="184.58" r="1.0" fill="#111" stroke="none" stroke-width="0.5"/>
<circle cx="591.88" cy="175.25" r="1.0" fill="#111" stroke="none" stroke-width="0.5"/>
<circle cx="594.8" cy="187.06" r="1.0" fill="#111" stroke="none" stroke-width="0.5"/>
<circle cx="595.96" cy="192.64" r="1.0" fill="#111" stroke="none" stroke-width="0.5"/>
<circle cx="599.51" cy="193.72" r="1.0" fill="#111" stroke="none" stroke-width="0.5"/>
<circle cx="592.07" cy="220.24" r="1.0" fill="#111" stroke="none" stroke-width="0.5"/>
<circle cx="594.34" cy="178.03" r="1.0" fill="#111" stroke="none" stroke-width="0.5"/>
<circle cx="595.69" cy="181.09" r="1.0" fill="#111" stroke="none" stroke-width="0.5"/>
<circle cx="590.55" cy="188.79" r="1.0" fill="#111" stroke="none" stroke-width="0.5"/>
<circle cx="595.84" cy="198.51" r="1.0" fill="#111" stroke="none" stroke-width="0.5"/>
<circle cx="594.51" cy="193.95" r="1.0" fill="#111" stroke="none" stroke-width="0.5"/>
<circle cx="594.72" cy="202.05" r="1.0" fill="#111" stroke="none" stroke-width="0.5"/>
<circle cx="592.38" cy="226.92" r="1.0" fill="#111" stroke="none" stroke-width="0.5"/>
<circle cx="589.89" cy="210.98" r="1.0" fill="#111" stroke="none" stroke-width="0.5"/>
<circle cx="592.66" cy="191.68" r="1.0" fill="#111" stroke="none" stroke-width="0.5"/>
<circle cx="591.44" cy="193.07" r="1.0" fill="#111" stroke="none" stroke-width="0.5"/>
<circle cx="597.62" cy="187.3" r="1.0" fill="#111" stroke="none" stroke-width="0.5"/>
<circle cx="597.6" cy="187.79" r="1.0" fill="#111" stroke="none" stroke-width="0.5"/>
<circle cx="592.15" cy="181.63" r="1.0" fill="#111" stroke="none" stroke-width="0.5"/>
<circle cx="593.93" cy="192.3" r="1.0" fill="#111" stroke="none" stroke-width="0.5"/>
<circle cx="596.86" cy="187.87" r="1.0" fill="#111" stroke="none" stroke-width="0.5"/>
<circle cx="591.1" cy="231.21" r="1.0" fill="#111" stroke="none" stroke-width="0.5"/>
<circle cx="593.55" cy="178.94" r="1.0" fill="#111" stroke="none" stroke-width="0.5"/>
<circle cx="594.69" cy="194.44" r="1.0" fill="#111" stroke="none" stroke-width="0.5"/>
<circle cx="597.4" cy="207.65" r="1.0" fill="#111" stroke="none" stroke-width="0.5"/>
<circle cx="596.6" cy="215.45" r="1.0" fill="#111" stroke="none" stroke-width="0.5"/>
<circle cx="591.27" cy="174.77" r="1.0" fill="#111" stroke="none" stroke-width="0.5"/>
<circle cx="592.26" cy="208.35" r="1.0" fill="#111" stroke="none" stroke-width="0.5"/>
<circle cx="591.29" cy="216.19" r="1.0" fill="#111" stroke="none" stroke-width="0.5"/>
<circle cx="592.62" cy="176.26" r="1.0" fill="#111" stroke="none" stroke-width="0.5"/>
<circle cx="592.36" cy="211.85" r="1.0" fill="#111" stroke="none" stroke-width="0.5"/>
<circle cx="591.75" cy="226.36" r="1.0" fill="#111" stroke="none" stroke-width="0.5"/>
<circle cx="598.38" cy="202.67" r="1.0" fill="#111" stroke="none" stroke-width="0.5"/>
<circle cx="590.21" cy="200.62" r="1.0" fill="#111" stroke="none" stroke-width="0.5"/>
<circle cx="592.76" cy="192.32" r="1.0" fill="#111" stroke="none" stroke-width="0.5"/>
<circle cx="594.1" cy="175.25" r="1.0" fill="#111" stroke="none" stroke-width="0.5"/>
<circle cx="593.86" cy="208.43" r="1.0" fill="#111" stroke="none" stroke-width="0.5"/>
<circle cx="590.05" cy="199.7" r="1.0" fill="#111" stroke="none" stroke-width="0.5"/>
<circle cx="591.14" cy="205.04" r="1.0" fill="#111" stroke="none" stroke-width="0.5"/>
<circle cx="590.2" cy="186.55" r="1.0" fill="#111" stroke="none" stroke-width="0.5"/>
<circle cx="594.83" cy="184.65" r="1.0" fill="#111" stroke="none" stroke-width="0.5"/>
<circle cx="594.9" cy="183.9" r="1.0" fill="#111" stroke="none" stroke-width="0.5"/>
<circle cx="594.79" cy="214.96" r="1.0" fill="#111" stroke="none" stroke-width="0.5"/>
<circle cx="591.5" cy="205.07" r="1.0" fill="#111" stroke="none" stroke-width="0.5"/>
<circle cx="589.87" cy="218.45" r="1.0" fill="#111" stroke="none" stroke-width="0.5"/>
<circle cx="591.54" cy="203.59" r="1.0" fill="#111" stroke="none" stroke-width="0.5"/>
<circle cx="596.76" cy="196.11" r="1.0" fill="#111" stroke="none" stroke-width="0.5"/>
<circle cx="593.53" cy="215.37" r="1.0" fill="#111" stroke="none" stroke-width="0.5"/>
<circle cx="591.92" cy="175.11" r="1.0" fill="#111" stroke="none" stroke-width="0.5"/>
<circle cx="594.69" cy="178.03" r="1.0" fill="#111" stroke="none" stroke-width="0.5"/>
<circle cx="598.69" cy="205.07" r="1.0" fill="#111" stroke="none" stroke-width="0.5"/>
<circle cx="596.89" cy="194.11" r="1.0" fill="#111" stroke="none" stroke-width="0.5"/>
<circle cx="594.78" cy="212.43" r="1.0" fill="#111" stroke="none" stroke-width="0.5"/>
<circle cx="596.83" cy="213.32" r="1.0" fill="#111" stroke="none" stroke-width="0.5"/>
<path d="M592.57,162.70 L592.80,164.20 L593.06,165.70 L593.36,167.20 L593.69,168.70 L594.05,170.20 L594.45,171.70 L594.87,173.20 L595.33,174.70 L595.82,176.20 L596.32,177.70 L596.84,179.20 L597.37,180.70 L597.90,182.20 L598.42,183.70 L598.92,185.20 L599.40,186.70 L599.84,188.20 L600.24,189.70 L600.58,191.20 L600.86,192.70 L601.08,194.20 L601.22,195.70 L601.29,197.20 L601.29,198.70 L601.20,200.20 L601.04,201.70 L600.81,203.20 L600.52,204.70 L600.16,206.20 L599.76,207.70 L599.31,209.20 L598.82,210.70 L598.32,212.20 L597.79,213.70 L597.26,215.20 L596.74,216.70 L596.22,218.20 L595.72,219.70 L595.24,221.20 L594.79,222.70 L594.36,224.20 L593.97,225.70 L593.62,227.20 L593.30,228.70 L593.01,230.20 L592.76,231.70 L592.53,233.20 L592.34,234.70 L592.17,236.20 L592.03,237.70 L591.91,239.20 L591.81,240.70 L591.73,242.20 L591.66,243.70 L591.60,245.20 L591.56,246.70 L591.52,248.20 L591.49,249.70 L591.47,251.20 L591.45,252.70 L591.44,254.20 L591.43,255.70" fill="none" stroke="#111" stroke-width="0.7"/>
<line x1="627.2" y1="167.0" x2="627.2" y2="172.4" stroke="#222" stroke-width="0.6"/>
<line x1="625.4000000000001" y1="167.0" x2="629.0" y2="167.0" stroke="#222" stroke-width="0.6"/>
<line x1="625.4000000000001" y1="172.4" x2="629.0" y2="172.4" stroke="#222" stroke-width="0.6"/>
<rect x="620.6" y="168.3" width="13.2" height="1.2" fill="#2a1a2a" stroke="#1a1018" stroke-width="0.4"/>
<circle cx="637.84" cy="167.47" r="0.85" fill="#d4148c" stroke="none" stroke-width="0.5"/>
<circle cx="639.67" cy="169.87" r="0.85" fill="#d4148c" stroke="none" stroke-width="0.5"/>
<circle cx="644.5" cy="168.81" r="0.85" fill="#d4148c" stroke="none" stroke-width="0.5"/>
<circle cx="636.81" cy="170.76" r="0.85" fill="#d4148c" stroke="none" stroke-width="0.5"/>
<circle cx="639.05" cy="169.52" r="0.85" fill="#d4148c" stroke="none" stroke-width="0.5"/>
<circle cx="636.57" cy="167.37" r="0.85" fill="#d4148c" stroke="none" stroke-width="0.5"/>
<circle cx="636.09" cy="169.91" r="0.85" fill="#d4148c" stroke="none" stroke-width="0.5"/>
<circle cx="639.5" cy="168.47" r="0.85" fill="#d4148c" stroke="none" stroke-width="0.5"/>
<circle cx="638.41" cy="170.25" r="0.85" fill="#d4148c" stroke="none" stroke-width="0.5"/>
<circle cx="637.7" cy="170.16" r="0.85" fill="#d4148c" stroke="none" stroke-width="0.5"/>
<circle cx="636.07" cy="169.05" r="0.85" fill="#d4148c" stroke="none" stroke-width="0.5"/>
<circle cx="637.08" cy="169.23" r="0.85" fill="#d4148c" stroke="none" stroke-width="0.5"/>
<circle cx="636.95" cy="169.75" r="0.85" fill="#d4148c" stroke="none" stroke-width="0.5"/>
<circle cx="636.59" cy="167.1" r="0.85" fill="#d4148c" stroke="none" stroke-width="0.5"/>
<circle cx="639.65" cy="169.87" r="0.85" fill="#d4148c" stroke="none" stroke-width="0.5"/>
<circle cx="639.88" cy="167.77" r="0.85" fill="#d4148c" stroke="none" stroke-width="0.5"/>
<circle cx="636.83" cy="169.86" r="0.85" fill="#d4148c" stroke="none" stroke-width="0.5"/>
<circle cx="637.42" cy="168.5" r="0.85" fill="#d4148c" stroke="none" stroke-width="0.5"/>
<circle cx="645.18" cy="168.44" r="0.85" fill="#d4148c" stroke="none" stroke-width="0.5"/>
<circle cx="637.17" cy="168.41" r="0.85" fill="#d4148c" stroke="none" stroke-width="0.5"/>
<circle cx="636.17" cy="167.88" r="0.85" fill="#d4148c" stroke="none" stroke-width="0.5"/>
<circle cx="636.29" cy="166.98" r="0.85" fill="#d4148c" stroke="none" stroke-width="0.5"/>
<circle cx="637.52" cy="172.31" r="0.85" fill="#d4148c" stroke="none" stroke-width="0.5"/>
<circle cx="636.38" cy="171.14" r="0.85" fill="#d4148c" stroke="none" stroke-width="0.5"/>
<circle cx="636.25" cy="169.14" r="0.85" fill="#d4148c" stroke="none" stroke-width="0.5"/>
<circle cx="637.57" cy="167.86" r="0.85" fill="#d4148c" stroke="none" stroke-width="0.5"/>
<circle cx="646.06" cy="169.4" r="0.85" fill="#d4148c" stroke="none" stroke-width="0.5"/>
<circle cx="638.54" cy="169.72" r="0.85" fill="#d4148c" stroke="none" stroke-width="0.5"/>
<circle cx="636.52" cy="170.12" r="0.85" fill="#d4148c" stroke="none" stroke-width="0.5"/>
<circle cx="637.54" cy="168.03" r="0.85" fill="#d4148c" stroke="none" stroke-width="0.5"/>
<circle cx="637.67" cy="170.68" r="0.85" fill="#d4148c" stroke="none" stroke-width="0.5"/>
<circle cx="648.96" cy="169.75" r="0.85" fill="#d4148c" stroke="none" stroke-width="0.5"/>
<circle cx="636.79" cy="170.0" r="0.85" fill="#d4148c" stroke="none" stroke-width="0.5"/>
<circle cx="638.3" cy="166.77" r="0.85" fill="#d4148c" stroke="none" stroke-width="0.5"/>
<circle cx="639.07" cy="167.42" r="0.85" fill="#d4148c" stroke="none" stroke-width="0.5"/>
<circle cx="636.39" cy="167.92" r="0.85" fill="#d4148c" stroke="none" stroke-width="0.5"/>
<circle cx="638.48" cy="168.67" r="0.85" fill="#d4148c" stroke="none" stroke-width="0.5"/>
<circle cx="641.02" cy="167.36" r="0.85" fill="#d4148c" stroke="none" stroke-width="0.5"/>
<circle cx="636.43" cy="169.22" r="0.85" fill="#d4148c" stroke="none" stroke-width="0.5"/>
<circle cx="636.34" cy="167.7" r="0.85" fill="#d4148c" stroke="none" stroke-width="0.5"/>
<circle cx="638.14" cy="169.14" r="0.85" fill="#d4148c" stroke="none" stroke-width="0.5"/>
<circle cx="636.46" cy="167.69" r="0.85" fill="#d4148c" stroke="none" stroke-width="0.5"/>
<circle cx="637.22" cy="171.72" r="0.85" fill="#d4148c" stroke="none" stroke-width="0.5"/>
<circle cx="636.38" cy="170.48" r="0.85" fill="#d4148c" stroke="none" stroke-width="0.5"/>
<circle cx="636.72" cy="169.36" r="0.85" fill="#d4148c" stroke="none" stroke-width="0.5"/>
<circle cx="636.7" cy="170.74" r="0.85" fill="#d4148c" stroke="none" stroke-width="0.5"/>
<circle cx="638.31" cy="169.15" r="0.85" fill="#d4148c" stroke="none" stroke-width="0.5"/>
<circle cx="647.6" cy="169.61" r="0.85" fill="#d4148c" stroke="none" stroke-width="0.5"/>
<circle cx="639.5" cy="171.13" r="0.85" fill="#d4148c" stroke="none" stroke-width="0.5"/>
<circle cx="636.53" cy="167.56" r="0.85" fill="#d4148c" stroke="none" stroke-width="0.5"/>
<circle cx="642.05" cy="168.81" r="0.85" fill="#d4148c" stroke="none" stroke-width="0.5"/>
<circle cx="637.24" cy="169.77" r="0.85" fill="#d4148c" stroke="none" stroke-width="0.5"/>
<circle cx="636.56" cy="170.77" r="0.85" fill="#d4148c" stroke="none" stroke-width="0.5"/>
<circle cx="636.01" cy="167.82" r="0.85" fill="#d4148c" stroke="none" stroke-width="0.5"/>
<circle cx="636.68" cy="169.88" r="0.85" fill="#d4148c" stroke="none" stroke-width="0.5"/>
<circle cx="647.4" cy="169.52" r="0.85" fill="#d4148c" stroke="none" stroke-width="0.5"/>
<circle cx="638.43" cy="169.31" r="0.85" fill="#d4148c" stroke="none" stroke-width="0.5"/>
<circle cx="637.52" cy="169.07" r="0.85" fill="#d4148c" stroke="none" stroke-width="0.5"/>
<circle cx="637.81" cy="168.71" r="0.85" fill="#d4148c" stroke="none" stroke-width="0.5"/>
<circle cx="637.24" cy="168.61" r="0.85" fill="#d4148c" stroke="none" stroke-width="0.5"/>
<circle cx="636.8" cy="186.7" r="0.85" fill="#d4148c" stroke="none" stroke-width="0.5"/>
<circle cx="636.5" cy="176.5" r="0.85" fill="#d4148c" stroke="none" stroke-width="0.5"/>
<circle cx="637.2" cy="174.0" r="0.85" fill="#d4148c" stroke="none" stroke-width="0.5"/>
<circle cx="636.4" cy="172.4" r="0.85" fill="#d4148c" stroke="none" stroke-width="0.5"/>
<circle cx="638.0" cy="173.0" r="0.85" fill="#d4148c" stroke="none" stroke-width="0.5"/>
<circle cx="636.9" cy="175.2" r="0.85" fill="#d4148c" stroke="none" stroke-width="0.5"/>
<circle cx="637.0" cy="178.6" r="0.85" fill="#d4148c" stroke="none" stroke-width="0.5"/>
<circle cx="636.6" cy="171.4" r="0.85" fill="#d4148c" stroke="none" stroke-width="0.5"/>
<path d="M638.31,162.80 L639.88,164.30 L642.84,165.80 L646.24,167.30 L647.80,168.80 L646.24,170.30 L642.84,171.80 L639.88,173.30 L638.31,174.80 L637.76,176.30 L637.63,177.80" fill="none" stroke="#111" stroke-width="0.7"/>
<rect x="2.3" y="292.3" width="330.2" height="156.0" fill="none" stroke="#1c3466" stroke-width="0.8" rx="5" stroke-dasharray="2 1"/>
<text x="6.0" y="313.6" font-size="12.5" fill="#000" font-weight="bold">g</text>
<g clip-path="url(#cS0)">
<rect x="19.2" y="297.0" width="100.0" height="87.80000000000001" fill="#5a5a5a" stroke="none" stroke-width="0.6"/>
<g filter="url(#fBlur04)">
<line x1="38.3" y1="348.1" x2="29.6" y2="367.5" stroke="#ababab" stroke-width="4.08"/>
<line x1="38.3" y1="348.1" x2="29.6" y2="367.5" stroke="#919191" stroke-width="3.53"/>
<line x1="57.1" y1="376.8" x2="75.7" y2="388.9" stroke="#929292" stroke-width="6.37"/>
<line x1="57.1" y1="376.8" x2="75.7" y2="388.9" stroke="#787878" stroke-width="5.82"/>
<line x1="42.1" y1="345.3" x2="69.0" y2="351.2" stroke="#999999" stroke-width="4.15"/>
<line x1="42.1" y1="345.3" x2="69.0" y2="351.2" stroke="#7f7f7f" stroke-width="3.60"/>
<line x1="102.9" y1="334.5" x2="75.9" y2="334.8" stroke="#a0a0a0" stroke-width="4.84"/>
<line x1="102.9" y1="334.5" x2="75.9" y2="334.8" stroke="#868686" stroke-width="4.29"/>
<line x1="20.2" y1="317.8" x2="20.3" y2="331.8" stroke="#9d9d9d" stroke-width="7.02"/>
<line x1="20.2" y1="317.8" x2="20.3" y2="331.8" stroke="#838383" stroke-width="6.47"/>
<line x1="5.7" y1="358.7" x2="32.5" y2="366.3" stroke="#979797" stroke-width="3.29"/>
<line x1="5.7" y1="358.7" x2="32.5" y2="366.3" stroke="#7d7d7d" stroke-width="2.74"/>
<line x1="74.2" y1="318.4" x2="74.9" y2="333.7" stroke="#adadad" stroke-width="3.37"/>
<line x1="74.2" y1="318.4" x2="74.9" y2="333.7" stroke="#939393" stroke-width="2.82"/>
<line x1="92.4" y1="294.2" x2="112.9" y2="308.8" stroke="#a7a7a7" stroke-width="6.43"/>
<line x1="92.4" y1="294.2" x2="112.9" y2="308.8" stroke="#8d8d8d" stroke-width="5.88"/>
<line x1="99.1" y1="351.8" x2="92.5" y2="377.2" stroke="#a1a1a1" stroke-width="3.71"/>
<line x1="99.1" y1="351.8" x2="92.5" y2="377.2" stroke="#878787" stroke-width="3.16"/>
<line x1="71.8" y1="323.8" x2="78.7" y2="336.6" stroke="#9b9b9b" stroke-width="5.36"/>
<line x1="71.8" y1="323.8" x2="78.7" y2="336.6" stroke="#818181" stroke-width="4.81"/>
<line x1="49.4" y1="321.2" x2="60.5" y2="350.7" stroke="#929292" stroke-width="4.76"/>
<line x1="49.4" y1="321.2" x2="60.5" y2="350.7" stroke="#787878" stroke-width="4.21"/>
<line x1="113.9" y1="297.0" x2="94.3" y2="321.4" stroke="#949494" stroke-width="3.23"/>
<line x1="113.9" y1="297.0" x2="94.3" y2="321.4" stroke="#7a7a7a" stroke-width="2.68"/>
<line x1="65.2" y1="355.5" x2="83.5" y2="370.8" stroke="#a5a5a5" stroke-width="5.44"/>
<line x1="65.2" y1="355.5" x2="83.5" y2="370.8" stroke="#8b8b8b" stroke-width="4.89"/>
<line x1="34.0" y1="342.9" x2="23.0" y2="369.0" stroke="#aaaaaa" stroke-width="4.55"/>
<line x1="34.0" y1="342.9" x2="23.0" y2="369.0" stroke="#909090" stroke-width="4.00"/>
<line x1="73.1" y1="320.7" x2="85.4" y2="324.8" stroke="#aaaaaa" stroke-width="6.47"/>
<line x1="73.1" y1="320.7" x2="85.4" y2="324.8" stroke="#909090" stroke-width="5.92"/>
<line x1="50.7" y1="308.0" x2="72.6" y2="310.6" stroke="#999999" stroke-width="5.85"/>
<line x1="50.7" y1="308.0" x2="72.6" y2="310.6" stroke="#7f7f7f" stroke-width="5.30"/>
<line x1="71.0" y1="383.8" x2="47.7" y2="386.6" stroke="#a1a1a1" stroke-width="6.75"/>
<line x1="71.0" y1="383.8" x2="47.7" y2="386.6" stroke="#878787" stroke-width="6.20"/>
<line x1="77.8" y1="354.1" x2="61.6" y2="357.4" stroke="#a0a0a0" stroke-width="5.46"/>
<line x1="77.8" y1="354.1" x2="61.6" y2="357.4" stroke="#868686" stroke-width="4.91"/>
<line x1="100.3" y1="351.3" x2="101.8" y2="379.7" stroke="#9a9a9a" stroke-width="3.43"/>
<line x1="100.3" y1="351.3" x2="101.8" y2="379.7" stroke="#808080" stroke-width="2.88"/>
<line x1="78.8" y1="291.0" x2="92.6" y2="304.7" stroke="#a6a6a6" stroke-width="6.70"/>
<line x1="78.8" y1="291.0" x2="92.6" y2="304.7" stroke="#8c8c8c" stroke-width="6.15"/>
<line x1="118.3" y1="377.1" x2="103.5" y2="392.3" stroke="#b0b0b0" stroke-width="4.23"/>
<line x1="118.3" y1="377.1" x2="103.5" y2="392.3" stroke="#969696" stroke-width="3.68"/>
<line x1="83.8" y1="362.8" x2="85.8" y2="393.4" stroke="#9d9d9d" stroke-width="6.81"/>
<line x1="83.8" y1="362.8" x2="85.8" y2="393.4" stroke="#838383" stroke-width="6.26"/>
<line x1="103.2" y1="365.8" x2="96.9" y2="384.9" stroke="#adadad" stroke-width="5.54"/>
<line x1="103.2" y1="365.8" x2="96.9" y2="384.9" stroke="#939393" stroke-width="4.99"/>
<line x1="68.6" y1="300.4" x2="64.7" y2="314.3" stroke="#9e9e9e" stroke-width="6.10"/>
<line x1="68.6" y1="300.4" x2="64.7" y2="314.3" stroke="#848484" stroke-width="5.55"/>
<line x1="76.8" y1="381.1" x2="100.2" y2="382.8" stroke="#adadad" stroke-width="5.79"/>
<line x1="76.8" y1="381.1" x2="100.2" y2="382.8" stroke="#939393" stroke-width="5.24"/>
<line x1="124.1" y1="322.0" x2="109.6" y2="344.4" stroke="#969696" stroke-width="6.47"/>
<line x1="124.1" y1="322.0" x2="109.6" y2="344.4" stroke="#7c7c7c" stroke-width="5.92"/>
<line x1="24.8" y1="301.6" x2="36.5" y2="305.1" stroke="#969696" stroke-width="5.00"/>
<line x1="24.8" y1="301.6" x2="36.5" y2="305.1" stroke="#7c7c7c" stroke-width="4.45"/>
<line x1="18.6" y1="298.7" x2="29.8" y2="312.4" stroke="#9e9e9e" stroke-width="6.99"/>
<line x1="18.6" y1="298.7" x2="29.8" y2="312.4" stroke="#848484" stroke-width="6.44"/>
<line x1="61.8" y1="310.9" x2="75.1" y2="318.6" stroke="#a8a8a8" stroke-width="4.73"/>
<line x1="61.8" y1="310.9" x2="75.1" y2="318.6" stroke="#8e8e8e" stroke-width="4.18"/>
<line x1="98.2" y1="353.7" x2="91.2" y2="374.2" stroke="#939393" stroke-width="6.20"/>
<line x1="98.2" y1="353.7" x2="91.2" y2="374.2" stroke="#797979" stroke-width="5.65"/>
<line x1="98.8" y1="289.0" x2="100.3" y2="301.8" stroke="#979797" stroke-width="6.27"/>
<line x1="98.8" y1="289.0" x2="100.3" y2="301.8" stroke="#7d7d7d" stroke-width="5.72"/>
<line x1="118.0" y1="314.7" x2="94.5" y2="317.4" stroke="#999999" stroke-width="6.20"/>
<line x1="118.0" y1="314.7" x2="94.5" y2="317.4" stroke="#7f7f7f" stroke-width="5.65"/>
<line x1="65.8" y1="320.3" x2="49.1" y2="325.7" stroke="#a3a3a3" stroke-width="5.23"/>
<line x1="65.8" y1="320.3" x2="49.1" y2="325.7" stroke="#898989" stroke-width="4.68"/>
<line x1="69.0" y1="340.8" x2="67.1" y2="353.5" stroke="#9c9c9c" stroke-width="5.60"/>
<line x1="69.0" y1="340.8" x2="67.1" y2="353.5" stroke="#828282" stroke-width="5.05"/>
<line x1="124.6" y1="314.1" x2="111.6" y2="332.0" stroke="#949494" stroke-width="5.46"/>
<line x1="124.6" y1="314.1" x2="111.6" y2="332.0" stroke="#7a7a7a" stroke-width="4.91"/>
<line x1="76.1" y1="320.7" x2="86.5" y2="328.3" stroke="#9f9f9f" stroke-width="5.85"/>
<line x1="76.1" y1="320.7" x2="86.5" y2="328.3" stroke="#858585" stroke-width="5.30"/>
<line x1="14.4" y1="298.4" x2="41.5" y2="304.8" stroke="#a0a0a0" stroke-width="6.26"/>
<line x1="14.4" y1="298.4" x2="41.5" y2="304.8" stroke="#868686" stroke-width="5.71"/>
<line x1="76.5" y1="370.5" x2="62.7" y2="392.2" stroke="#a2a2a2" stroke-width="5.10"/>
<line x1="76.5" y1="370.5" x2="62.7" y2="392.2" stroke="#888888" stroke-width="4.55"/>
<line x1="52.7" y1="327.3" x2="62.3" y2="335.5" stroke="#999999" stroke-width="4.95"/>
<line x1="52.7" y1="327.3" x2="62.3" y2="335.5" stroke="#7f7f7f" stroke-width="4.40"/>
<line x1="42.6" y1="339.0" x2="48.5" y2="358.3" stroke="#9e9e9e" stroke-width="6.41"/>
<line x1="42.6" y1="339.0" x2="48.5" y2="358.3" stroke="#848484" stroke-width="5.86"/>
<line x1="63.3" y1="325.1" x2="50.9" y2="353.4" stroke="#a1a1a1" stroke-width="3.56"/>
<line x1="63.3" y1="325.1" x2="50.9" y2="353.4" stroke="#878787" stroke-width="3.01"/>
<line x1="37.4" y1="321.3" x2="32.2" y2="336.4" stroke="#a6a6a6" stroke-width="5.02"/>
<line x1="37.4" y1="321.3" x2="32.2" y2="336.4" stroke="#8c8c8c" stroke-width="4.47"/>
<line x1="107.8" y1="350.3" x2="84.6" y2="361.3" stroke="#999999" stroke-width="5.95"/>
<line x1="107.8" y1="350.3" x2="84.6" y2="361.3" stroke="#7f7f7f" stroke-width="5.40"/>
<line x1="61.6" y1="332.4" x2="72.6" y2="348.2" stroke="#a8a8a8" stroke-width="5.31"/>
<line x1="61.6" y1="332.4" x2="72.6" y2="348.2" stroke="#8e8e8e" stroke-width="4.76"/>
<line x1="115.4" y1="287.8" x2="125.3" y2="302.7" stroke="#969696" stroke-width="4.78"/>
<line x1="115.4" y1="287.8" x2="125.3" y2="302.7" stroke="#7c7c7c" stroke-width="4.23"/>
<line x1="27.0" y1="298.7" x2="25.3" y2="322.7" stroke="#a9a9a9" stroke-width="4.72"/>
<line x1="27.0" y1="298.7" x2="25.3" y2="322.7" stroke="#8f8f8f" stroke-width="4.17"/>
<line x1="77.9" y1="302.8" x2="52.4" y2="306.3" stroke="#9c9c9c" stroke-width="4.04"/>
<line x1="77.9" y1="302.8" x2="52.4" y2="306.3" stroke="#828282" stroke-width="3.49"/>
<line x1="50.2" y1="344.2" x2="61.2" y2="351.6" stroke="#a2a2a2" stroke-width="3.33"/>
<line x1="50.2" y1="344.2" x2="61.2" y2="351.6" stroke="#888888" stroke-width="2.78"/>
<line x1="32.1" y1="366.2" x2="54.5" y2="377.9" stroke="#a5a5a5" stroke-width="4.02"/>
<line x1="32.1" y1="366.2" x2="54.5" y2="377.9" stroke="#8b8b8b" stroke-width="3.47"/>
<line x1="80.2" y1="355.6" x2="97.4" y2="364.8" stroke="#a0a0a0" stroke-width="4.82"/>
<line x1="80.2" y1="355.6" x2="97.4" y2="364.8" stroke="#868686" stroke-width="4.27"/>
<line x1="73.1" y1="315.3" x2="89.6" y2="325.4" stroke="#989898" stroke-width="4.31"/>
<line x1="73.1" y1="315.3" x2="89.6" y2="325.4" stroke="#7e7e7e" stroke-width="3.76"/>
<line x1="113.4" y1="303.6" x2="124.4" y2="325.2" stroke="#9d9d9d" stroke-width="6.71"/>
<line x1="113.4" y1="303.6" x2="124.4" y2="325.2" stroke="#838383" stroke-width="6.16"/>
<line x1="6.9" y1="339.1" x2="30.5" y2="342.0" stroke="#999999" stroke-width="6.02"/>
<line x1="6.9" y1="339.1" x2="30.5" y2="342.0" stroke="#7f7f7f" stroke-width="5.47"/>
<line x1="106.7" y1="373.9" x2="134.4" y2="387.8" stroke="#9d9d9d" stroke-width="3.98"/>
<line x1="106.7" y1="373.9" x2="134.4" y2="387.8" stroke="#838383" stroke-width="3.43"/>
<line x1="97.9" y1="322.9" x2="123.0" y2="334.2" stroke="#a2a2a2" stroke-width="6.51"/>
<line x1="97.9" y1="322.9" x2="123.0" y2="334.2" stroke="#888888" stroke-width="5.96"/>
<line x1="101.0" y1="308.8" x2="108.6" y2="337.1" stroke="#a4a4a4" stroke-width="4.19"/>
<line x1="101.0" y1="308.8" x2="108.6" y2="337.1" stroke="#8a8a8a" stroke-width="3.64"/>
<line x1="115.0" y1="368.5" x2="86.5" y2="375.3" stroke="#a4a4a4" stroke-width="3.29"/>
<line x1="115.0" y1="368.5" x2="86.5" y2="375.3" stroke="#8a8a8a" stroke-width="2.74"/>
<line x1="37.9" y1="326.7" x2="10.7" y2="342.4" stroke="#969696" stroke-width="5.85"/>
<line x1="37.9" y1="326.7" x2="10.7" y2="342.4" stroke="#7c7c7c" stroke-width="5.30"/>
<line x1="26.9" y1="357.9" x2="19.0" y2="380.6" stroke="#ababab" stroke-width="5.10"/>
<line x1="26.9" y1="357.9" x2="19.0" y2="380.6" stroke="#919191" stroke-width="4.55"/>
<line x1="79.8" y1="304.6" x2="95.3" y2="312.7" stroke="#929292" stroke-width="5.78"/>
<line x1="79.8" y1="304.6" x2="95.3" y2="312.7" stroke="#787878" stroke-width="5.23"/>
<line x1="99.3" y1="298.9" x2="120.7" y2="303.5" stroke="#989898" stroke-width="5.93"/>
<line x1="99.3" y1="298.9" x2="120.7" y2="303.5" stroke="#7e7e7e" stroke-width="5.38"/>
<line x1="44.2" y1="321.2" x2="64.6" y2="332.6" stroke="#ababab" stroke-width="4.32"/>
<line x1="44.2" y1="321.2" x2="64.6" y2="332.6" stroke="#919191" stroke-width="3.77"/>
<line x1="70.8" y1="304.3" x2="99.5" y2="314.0" stroke="#9f9f9f" stroke-width="5.37"/>
<line x1="70.8" y1="304.3" x2="99.5" y2="314.0" stroke="#858585" stroke-width="4.82"/>
<line x1="47.5" y1="310.9" x2="27.6" y2="313.8" stroke="#999999" stroke-width="4.52"/>
<line x1="47.5" y1="310.9" x2="27.6" y2="313.8" stroke="#7f7f7f" stroke-width="3.97"/>
<line x1="34.1" y1="288.4" x2="44.1" y2="308.3" stroke="#979797" stroke-width="5.73"/>
<line x1="34.1" y1="288.4" x2="44.1" y2="308.3" stroke="#7d7d7d" stroke-width="5.18"/>
<line x1="17.9" y1="314.0" x2="19.8" y2="342.8" stroke="#929292" stroke-width="4.98"/>
<line x1="17.9" y1="314.0" x2="19.8" y2="342.8" stroke="#787878" stroke-width="4.43"/>
<line x1="101.1" y1="348.3" x2="122.2" y2="365.4" stroke="#a3a3a3" stroke-width="6.83"/>
<line x1="101.1" y1="348.3" x2="122.2" y2="365.4" stroke="#898989" stroke-width="6.28"/>
<line x1="75.5" y1="298.3" x2="84.4" y2="311.5" stroke="#a8a8a8" stroke-width="5.07"/>
<line x1="75.5" y1="298.3" x2="84.4" y2="311.5" stroke="#8e8e8e" stroke-width="4.52"/>
<line x1="94.5" y1="285.0" x2="105.3" y2="306.4" stroke="#aaaaaa" stroke-width="5.65"/>
<line x1="94.5" y1="285.0" x2="105.3" y2="306.4" stroke="#909090" stroke-width="5.10"/>
<line x1="43.0" y1="354.7" x2="69.2" y2="371.6" stroke="#9f9f9f" stroke-width="5.22"/>
<line x1="43.0" y1="354.7" x2="69.2" y2="371.6" stroke="#858585" stroke-width="4.67"/>
<line x1="40.7" y1="372.6" x2="36.0" y2="399.4" stroke="#aeaeae" stroke-width="6.18"/>
<line x1="40.7" y1="372.6" x2="36.0" y2="399.4" stroke="#949494" stroke-width="5.63"/>
<line x1="108.2" y1="369.9" x2="125.4" y2="386.0" stroke="#a7a7a7" stroke-width="4.62"/>
<line x1="108.2" y1="369.9" x2="125.4" y2="386.0" stroke="#8d8d8d" stroke-width="4.07"/>
<line x1="96.5" y1="325.4" x2="107.7" y2="330.3" stroke="#a4a4a4" stroke-width="4.91"/>
<line x1="96.5" y1="325.4" x2="107.7" y2="330.3" stroke="#8a8a8a" stroke-width="4.36"/>
<line x1="104.9" y1="375.1" x2="86.8" y2="394.4" stroke="#a3a3a3" stroke-width="4.07"/>
<line x1="104.9" y1="375.1" x2="86.8" y2="394.4" stroke="#898989" stroke-width="3.52"/>
<line x1="71.8" y1="369.5" x2="71.2" y2="383.6" stroke="#9f9f9f" stroke-width="4.18"/>
<line x1="71.8" y1="369.5" x2="71.2" y2="383.6" stroke="#858585" stroke-width="3.63"/>
<line x1="80.9" y1="329.5" x2="81.1" y2="344.9" stroke="#979797" stroke-width="4.07"/>
<line x1="80.9" y1="329.5" x2="81.1" y2="344.9" stroke="#7d7d7d" stroke-width="3.52"/>
<line x1="61.5" y1="320.8" x2="62.0" y2="337.7" stroke="#a0a0a0" stroke-width="5.37"/>
<line x1="61.5" y1="320.8" x2="62.0" y2="337.7" stroke="#868686" stroke-width="4.82"/>
<line x1="33.2" y1="358.0" x2="43.3" y2="375.8" stroke="#969696" stroke-width="4.42"/>
<line x1="33.2" y1="358.0" x2="43.3" y2="375.8" stroke="#7c7c7c" stroke-width="3.87"/>
<line x1="89.6" y1="376.6" x2="97.0" y2="394.6" stroke="#a7a7a7" stroke-width="3.23"/>
<line x1="89.6" y1="376.6" x2="97.0" y2="394.6" stroke="#8d8d8d" stroke-width="2.68"/>
<line x1="116.5" y1="316.6" x2="98.5" y2="327.0" stroke="#adadad" stroke-width="5.16"/>
<line x1="116.5" y1="316.6" x2="98.5" y2="327.0" stroke="#939393" stroke-width="4.61"/>
<line x1="93.3" y1="362.7" x2="94.0" y2="375.4" stroke="#acacac" stroke-width="4.70"/>
<line x1="93.3" y1="362.7" x2="94.0" y2="375.4" stroke="#929292" stroke-width="4.15"/>
<line x1="25.5" y1="315.0" x2="35.6" y2="335.5" stroke="#a8a8a8" stroke-width="5.01"/>
<line x1="25.5" y1="315.0" x2="35.6" y2="335.5" stroke="#8e8e8e" stroke-width="4.46"/>
<line x1="96.1" y1="367.1" x2="82.5" y2="380.6" stroke="#ababab" stroke-width="4.22"/>
<line x1="96.1" y1="367.1" x2="82.5" y2="380.6" stroke="#919191" stroke-width="3.67"/>
<line x1="75.9" y1="302.3" x2="53.6" y2="309.9" stroke="#adadad" stroke-width="4.55"/>
<line x1="75.9" y1="302.3" x2="53.6" y2="309.9" stroke="#939393" stroke-width="4.00"/>
<line x1="27.7" y1="316.2" x2="21.8" y2="329.5" stroke="#9a9a9a" stroke-width="6.54"/>
<line x1="27.7" y1="316.2" x2="21.8" y2="329.5" stroke="#808080" stroke-width="5.99"/>
<line x1="32.4" y1="341.3" x2="22.7" y2="361.0" stroke="#aaaaaa" stroke-width="3.75"/>
<line x1="32.4" y1="341.3" x2="22.7" y2="361.0" stroke="#909090" stroke-width="3.20"/>
<line x1="96.5" y1="307.0" x2="86.4" y2="322.2" stroke="#9d9d9d" stroke-width="5.81"/>
<line x1="96.5" y1="307.0" x2="86.4" y2="322.2" stroke="#838383" stroke-width="5.26"/>
<line x1="12.3" y1="365.2" x2="22.9" y2="378.4" stroke="#939393" stroke-width="6.52"/>
<line x1="12.3" y1="365.2" x2="22.9" y2="378.4" stroke="#797979" stroke-width="5.97"/>
<line x1="32.4" y1="369.9" x2="26.8" y2="380.6" stroke="#a5a5a5" stroke-width="6.12"/>
<line x1="32.4" y1="369.9" x2="26.8" y2="380.6" stroke="#8b8b8b" stroke-width="5.57"/>
<line x1="91.8" y1="328.1" x2="89.2" y2="350.5" stroke="#929292" stroke-width="4.95"/>
<line x1="91.8" y1="328.1" x2="89.2" y2="350.5" stroke="#787878" stroke-width="4.40"/>
<line x1="77.1" y1="316.3" x2="89.5" y2="340.0" stroke="#a0a0a0" stroke-width="5.76"/>
<line x1="77.1" y1="316.3" x2="89.5" y2="340.0" stroke="#868686" stroke-width="5.21"/>
<line x1="90.5" y1="340.3" x2="93.6" y2="356.3" stroke="#aeaeae" stroke-width="6.63"/>
<line x1="90.5" y1="340.3" x2="93.6" y2="356.3" stroke="#949494" stroke-width="6.08"/>
<line x1="67.5" y1="303.7" x2="61.2" y2="326.1" stroke="#a1a1a1" stroke-width="3.56"/>
<line x1="67.5" y1="303.7" x2="61.2" y2="326.1" stroke="#878787" stroke-width="3.01"/>
<line x1="24.5" y1="286.3" x2="41.2" y2="305.5" stroke="#b0b0b0" stroke-width="4.41"/>
<line x1="24.5" y1="286.3" x2="41.2" y2="305.5" stroke="#969696" stroke-width="3.86"/>
<line x1="11.0" y1="306.2" x2="32.4" y2="317.3" stroke="#999999" stroke-width="6.61"/>
<line x1="11.0" y1="306.2" x2="32.4" y2="317.3" stroke="#7f7f7f" stroke-width="6.06"/>
<line x1="79.7" y1="299.0" x2="69.1" y2="320.8" stroke="#959595" stroke-width="3.71"/>
<line x1="79.7" y1="299.0" x2="69.1" y2="320.8" stroke="#7b7b7b" stroke-width="3.16"/>
<line x1="38.8" y1="352.1" x2="37.2" y2="365.3" stroke="#a5a5a5" stroke-width="4.19"/>
<line x1="38.8" y1="352.1" x2="37.2" y2="365.3" stroke="#8b8b8b" stroke-width="3.64"/>
<line x1="73.3" y1="303.7" x2="79.1" y2="330.5" stroke="#a8a8a8" stroke-width="6.93"/>
<line x1="73.3" y1="303.7" x2="79.1" y2="330.5" stroke="#8e8e8e" stroke-width="6.38"/>
<line x1="81.0" y1="288.2" x2="91.5" y2="302.8" stroke="#9d9d9d" stroke-width="6.87"/>
<line x1="81.0" y1="288.2" x2="91.5" y2="302.8" stroke="#838383" stroke-width="6.32"/>
<line x1="110.9" y1="326.8" x2="107.9" y2="339.0" stroke="#ababab" stroke-width="4.83"/>
<line x1="110.9" y1="326.8" x2="107.9" y2="339.0" stroke="#919191" stroke-width="4.28"/>
<line x1="83.9" y1="309.8" x2="71.0" y2="312.9" stroke="#aaaaaa" stroke-width="7.08"/>
<line x1="83.9" y1="309.8" x2="71.0" y2="312.9" stroke="#909090" stroke-width="6.53"/>
<line x1="73.6" y1="314.1" x2="58.7" y2="323.2" stroke="#a1a1a1" stroke-width="4.70"/>
<line x1="73.6" y1="314.1" x2="58.7" y2="323.2" stroke="#878787" stroke-width="4.15"/>
<line x1="90.6" y1="326.6" x2="80.3" y2="334.0" stroke="#949494" stroke-width="4.37"/>
<line x1="90.6" y1="326.6" x2="80.3" y2="334.0" stroke="#7a7a7a" stroke-width="3.82"/>
<line x1="55.9" y1="364.3" x2="79.5" y2="375.2" stroke="#9e9e9e" stroke-width="4.46"/>
<line x1="55.9" y1="364.3" x2="79.5" y2="375.2" stroke="#848484" stroke-width="3.91"/>
<line x1="27.0" y1="347.2" x2="29.9" y2="363.3" stroke="#adadad" stroke-width="4.71"/>
<line x1="27.0" y1="347.2" x2="29.9" y2="363.3" stroke="#939393" stroke-width="4.16"/>
<line x1="88.7" y1="336.5" x2="118.1" y2="346.7" stroke="#aeaeae" stroke-width="4.09"/>
<line x1="88.7" y1="336.5" x2="118.1" y2="346.7" stroke="#949494" stroke-width="3.54"/>
<line x1="54.7" y1="304.0" x2="55.0" y2="321.7" stroke="#979797" stroke-width="4.54"/>
<line x1="54.7" y1="304.0" x2="55.0" y2="321.7" stroke="#7d7d7d" stroke-width="3.99"/>
<line x1="97.5" y1="288.9" x2="97.4" y2="303.8" stroke="#979797" stroke-width="4.09"/>
<line x1="97.5" y1="288.9" x2="97.4" y2="303.8" stroke="#7d7d7d" stroke-width="3.54"/>
<line x1="111.8" y1="318.5" x2="103.6" y2="332.5" stroke="#a0a0a0" stroke-width="5.82"/>
<line x1="111.8" y1="318.5" x2="103.6" y2="332.5" stroke="#868686" stroke-width="5.27"/>
<line x1="49.6" y1="323.5" x2="35.9" y2="330.7" stroke="#aeaeae" stroke-width="6.02"/>
<line x1="49.6" y1="323.5" x2="35.9" y2="330.7" stroke="#949494" stroke-width="5.47"/>
<polygon points="30.0,313.0 37.5,315.5 33.3,322.1" fill="#484848"/>
<polygon points="56.6,335.4 69.1,337.9 64.9,343.8 57.4,342.1" fill="#484848"/>
<polygon points="79.1,334.6 89.9,342.9 86.6,362.9 79.1,351.2" fill="#484848"/>
<polygon points="63.3,359.6 78.2,362.9 73.2,376.2 64.9,371.2" fill="#484848"/>
<polygon points="25.0,342.9 35.0,344.6 31.6,350.4" fill="#484848"/>
<polygon points="96.5,299.7 114.9,302.2 108.2,310.5" fill="#484848"/>
<polygon points="105.7,332.9 114.9,334.6 112.4,342.9" fill="#484848"/>
<polygon points="48.3,372.9 56.6,376.2 50.8,381.2" fill="#484848"/>
<polygon points="93.2,371.2 101.5,372.9 96.5,379.5" fill="#484848"/>
<polygon points="20.0,326.3 24.2,328.8 20.8,334.6" fill="#484848"/>
<polygon points="43.3,331.3 48.3,333.8 44.1,337.1" fill="#484848"/>
<line x1="20.0" y1="308.8" x2="47.5" y2="301.3" stroke="#bdbdbd" stroke-width="5.55"/>
<line x1="20.0" y1="308.8" x2="47.5" y2="301.3" stroke="#9a9a9a" stroke-width="5.00"/>
<line x1="45.8" y1="298.8" x2="70.7" y2="323.8" stroke="#bdbdbd" stroke-width="4.88"/>
<line x1="45.8" y1="298.8" x2="70.7" y2="323.8" stroke="#9a9a9a" stroke-width="4.33"/>
<line x1="35.0" y1="322.1" x2="66.6" y2="333.8" stroke="#bdbdbd" stroke-width="7.22"/>
<line x1="35.0" y1="322.1" x2="66.6" y2="333.8" stroke="#9a9a9a" stroke-width="6.67"/>
<line x1="73.2" y1="326.3" x2="73.2" y2="349.6" stroke="#bdbdbd" stroke-width="6.88"/>
<line x1="73.2" y1="326.3" x2="73.2" y2="349.6" stroke="#9a9a9a" stroke-width="6.33"/>
<line x1="59.1" y1="347.9" x2="80.7" y2="348.7" stroke="#bdbdbd" stroke-width="6.55"/>
<line x1="59.1" y1="347.9" x2="80.7" y2="348.7" stroke="#9a9a9a" stroke-width="6.00"/>
<line x1="19.2" y1="361.2" x2="42.5" y2="350.4" stroke="#bdbdbd" stroke-width="5.55"/>
<line x1="19.2" y1="361.2" x2="42.5" y2="350.4" stroke="#9a9a9a" stroke-width="5.00"/>
<line x1="88.2" y1="359.6" x2="108.2" y2="346.3" stroke="#bdbdbd" stroke-width="6.22"/>
<line x1="88.2" y1="359.6" x2="108.2" y2="346.3" stroke="#9a9a9a" stroke-width="5.67"/>
<line x1="84.9" y1="303.0" x2="93.2" y2="334.6" stroke="#bdbdbd" stroke-width="3.22"/>
<line x1="84.9" y1="303.0" x2="93.2" y2="334.6" stroke="#9a9a9a" stroke-width="2.67"/>
<line x1="98.2" y1="313.0" x2="118.2" y2="326.3" stroke="#bdbdbd" stroke-width="4.22"/>
<line x1="98.2" y1="313.0" x2="118.2" y2="326.3" stroke="#9a9a9a" stroke-width="3.67"/>
<line x1="31.6" y1="371.2" x2="56.6" y2="364.6" stroke="#bdbdbd" stroke-width="4.88"/>
<line x1="31.6" y1="371.2" x2="56.6" y2="364.6" stroke="#9a9a9a" stroke-width="4.33"/>
</g>
<rect x="19.2" y="297.0" width="100.0" height="87.80000000000001" fill="#fff" stroke="none" stroke-width="0.6" filter="url(#fNoise)"/>
</g>
<text x="28.0" y="371.2" font-size="8.8" fill="#fff" stroke="#fff" stroke-width="0.18">10 &#181;m</text>
<line x1="28.0" y1="378.0" x2="49.2" y2="378.0" stroke="#e8e8e8" stroke-width="0.7"/>
<text x="114.3" y="378.4" font-size="9.3" fill="#fff" stroke="#fff" stroke-width="0.18" text-anchor="end">Bare Al</text>
<g clip-path="url(#cS1)">
<rect x="122.2" y="297.0" width="99.60000000000001" height="87.80000000000001" fill="#464646" stroke="none" stroke-width="0.6"/>
<g filter="url(#fBlur06)">
<polygon points="132.5,318.4 130.4,315.6 129.1,309.9 133.9,306.3 137.8,305.9 143.1,309.6 143.6,314.0 140.0,318.0" fill="#6e6e6e" stroke="#303030" stroke-width="0.7" stroke-linejoin="round"/>
<polygon points="151.5,330.8 144.1,331.4 141.3,324.5 139.5,319.1 143.2,314.4 147.8,312.5 154.9,314.0 155.6,319.8 154.5,327.8" fill="#6f6f6f" stroke="#303030" stroke-width="0.7" stroke-linejoin="round"/>
<polygon points="153.0,321.4 152.4,317.2 156.9,312.2 160.1,310.4 165.9,313.6 166.7,319.6 161.9,324.2 158.2,324.5" fill="#747474" stroke="#303030" stroke-width="0.7" stroke-linejoin="round"/>
<polygon points="172.6,336.0 166.1,335.3 161.1,333.6 160.7,325.4 162.2,319.3 166.6,316.6 172.7,320.2 176.1,324.7 175.3,332.4" fill="#707070" stroke="#303030" stroke-width="0.7" stroke-linejoin="round"/>
<polygon points="176.6,318.2 169.9,313.4 173.3,306.4 178.1,304.6 186.8,308.8 188.5,313.1 184.5,318.4" fill="#717171" stroke="#303030" stroke-width="0.7" stroke-linejoin="round"/>
<polygon points="189.6,321.0 191.7,311.9 195.7,310.5 201.0,314.1 203.1,317.9 199.6,326.4 193.5,325.6" fill="#6d6d6d" stroke="#303030" stroke-width="0.7" stroke-linejoin="round"/>
<polygon points="222.0,327.6 218.9,337.8 212.0,341.4 208.2,340.3 203.7,335.7 201.0,326.6 208.0,318.7 211.7,318.6 218.3,321.7" fill="#6d6d6d" stroke="#303030" stroke-width="0.7" stroke-linejoin="round"/>
<polygon points="156.7,340.8 162.5,347.7 159.9,353.7 155.2,357.8 148.5,358.4 144.8,354.4 139.6,351.3 141.0,341.5 145.0,339.0 154.0,337.7" fill="#737373" stroke="#303030" stroke-width="0.7" stroke-linejoin="round"/>
<polygon points="181.8,343.6 193.1,339.9 198.7,343.6 200.8,359.8 198.3,365.5 187.4,370.3 178.1,360.6 174.2,353.8" fill="#757575" stroke="#303030" stroke-width="0.7" stroke-linejoin="round"/>
<polygon points="219.3,355.0 220.3,362.4 217.0,366.8 211.4,370.5 204.4,367.8 201.4,362.3 200.7,357.3 204.1,350.7 209.4,349.5 214.0,351.3" fill="#696969" stroke="#303030" stroke-width="0.7" stroke-linejoin="round"/>
<polygon points="130.2,336.0 132.8,334.0 137.7,331.1 139.5,333.1 142.4,335.0 141.3,339.9 138.4,343.5 135.2,344.7 133.2,342.2 129.9,338.5" fill="#717171" stroke="#303030" stroke-width="0.7" stroke-linejoin="round"/>
<polygon points="159.9,338.9 158.4,335.7 160.4,332.2 164.2,331.9 168.0,331.8 170.6,333.0 172.3,336.8 171.2,340.3 167.7,341.1 162.9,340.9" fill="#696969" stroke="#303030" stroke-width="0.7" stroke-linejoin="round"/>
<polygon points="164.6,348.5 167.5,350.6 168.6,353.6 169.3,357.3 166.0,359.0 160.5,360.4 157.2,358.1 155.9,355.0 157.7,351.4 160.8,348.9" fill="#6e6e6e" stroke="#303030" stroke-width="0.7" stroke-linejoin="round"/>
<polygon points="173.6,361.1 172.8,366.3 169.1,368.1 164.9,367.0 162.1,364.3 163.3,359.8 164.4,355.8 168.0,355.7 171.9,356.2" fill="#666666" stroke="#303030" stroke-width="0.7" stroke-linejoin="round"/>
<polygon points="139.1,373.9 142.9,376.9 142.7,382.4 134.2,385.5 128.1,382.3 125.1,378.6 130.3,374.5" fill="#6f6f6f" stroke="#303030" stroke-width="0.7" stroke-linejoin="round"/>
<polygon points="154.6,298.6 156.8,301.1 156.0,304.9 152.7,306.4 147.2,306.7 143.5,304.5 141.8,302.9 141.7,300.0 146.2,297.8 152.0,297.8" fill="#727272" stroke="#303030" stroke-width="0.7" stroke-linejoin="round"/>
<polygon points="152.3,371.8 145.0,372.6 143.1,369.3 143.2,366.3 146.4,362.7 152.7,364.7 153.0,367.6" fill="#6f6f6f" stroke="#303030" stroke-width="0.7" stroke-linejoin="round"/>
<polygon points="166.7,374.5 166.0,379.7 160.6,381.7 156.7,381.1 154.1,379.1 153.6,375.4 155.5,371.9 162.6,371.7" fill="#6b6b6b" stroke="#303030" stroke-width="0.7" stroke-linejoin="round"/>
<polygon points="169.8,297.2 174.8,297.4 179.4,299.2 179.7,302.2 178.1,304.6 171.8,304.8 167.1,304.3 166.2,301.0" fill="#6f6f6f" stroke="#303030" stroke-width="0.7" stroke-linejoin="round"/>
<polygon points="201.5,352.8 198.0,351.6 196.2,348.0 199.4,344.9 204.6,341.9 207.3,342.7 211.5,345.3 212.6,348.2 208.7,352.8 204.3,354.1" fill="#727272" stroke="#303030" stroke-width="0.7" stroke-linejoin="round"/>
<polygon points="219.4,304.5 220.5,306.0 219.7,310.4 218.1,312.8 215.0,311.7 212.6,310.2 211.5,306.9 212.3,304.6 216.0,303.6" fill="#686868" stroke="#303030" stroke-width="0.7" stroke-linejoin="round"/>
<polygon points="193.2,303.8 193.6,307.2 192.4,310.6 189.4,310.5 186.2,309.0 185.4,305.7 187.0,303.2 189.3,301.1" fill="#6a6a6a" stroke="#303030" stroke-width="0.7" stroke-linejoin="round"/>
<polygon points="126.8,320.9 125.0,320.7 122.5,320.6 122.0,318.7 122.2,316.7 123.3,315.4 125.2,314.3 127.7,316.0 127.8,317.8" fill="#727272" stroke="#303030" stroke-width="0.7" stroke-linejoin="round"/>
<polygon points="197.7,339.3 194.7,340.0 192.9,337.1 192.8,334.1 195.9,332.6 198.9,333.7 199.4,337.7" fill="#737373" stroke="#303030" stroke-width="0.7" stroke-linejoin="round"/>
<polygon points="179.5,340.3 178.2,339.1 177.5,337.8 179.1,335.9 181.0,335.4 183.4,335.8 184.1,336.3 185.3,338.9 183.7,340.3 182.5,340.6" fill="#747474" stroke="#303030" stroke-width="0.7" stroke-linejoin="round"/>
<polygon points="175.5,348.2 172.4,349.2 169.5,346.9 168.6,343.1 170.1,341.2 173.5,340.3 176.2,341.7 176.5,345.1" fill="#676767" stroke="#303030" stroke-width="0.7" stroke-linejoin="round"/>
<ellipse cx="166.3" cy="323.8" rx="2.7" ry="2.0" fill="#2c2c2c" stroke="none" stroke-width="0.5"/>
<ellipse cx="162.9" cy="332.9" rx="1.7" ry="1.3" fill="#2c2c2c" stroke="none" stroke-width="0.5"/>
<ellipse cx="200.4" cy="359.6" rx="2.0" ry="2.3" fill="#2c2c2c" stroke="none" stroke-width="0.5"/>
<ellipse cx="152.9" cy="323.0" rx="1.3" ry="2.0" fill="#2c2c2c" stroke="none" stroke-width="0.5"/>
<ellipse cx="204.5" cy="367.9" rx="6.7" ry="1.3" fill="#2c2c2c" stroke="none" stroke-width="0.5"/>
</g>
<circle cx="217.1" cy="380.3" r="0.35" fill="#777" stroke="none" stroke-width="0.5"/>
<circle cx="127.8" cy="304.1" r="0.35" fill="#777" stroke="none" stroke-width="0.5"/>
<circle cx="205.2" cy="361.6" r="0.35" fill="#777" stroke="none" stroke-width="0.5"/>
<circle cx="188.7" cy="323.8" r="0.35" fill="#777" stroke="none" stroke-width="0.5"/>
<circle cx="182.4" cy="350.2" r="0.35" fill="#777" stroke="none" stroke-width="0.5"/>
<circle cx="179.9" cy="310.6" r="0.35" fill="#777" stroke="none" stroke-width="0.5"/>
<circle cx="164.9" cy="331.4" r="0.35" fill="#777" stroke="none" stroke-width="0.5"/>
<circle cx="194.0" cy="384.4" r="0.35" fill="#777" stroke="none" stroke-width="0.5"/>
<circle cx="216.5" cy="344.7" r="0.35" fill="#777" stroke="none" stroke-width="0.5"/>
<circle cx="166.4" cy="320.3" r="0.35" fill="#777" stroke="none" stroke-width="0.5"/>
<circle cx="125.7" cy="299.1" r="0.35" fill="#777" stroke="none" stroke-width="0.5"/>
<circle cx="168.3" cy="324.8" r="0.35" fill="#777" stroke="none" stroke-width="0.5"/>
<circle cx="159.9" cy="375.3" r="0.35" fill="#777" stroke="none" stroke-width="0.5"/>
<circle cx="174.4" cy="346.1" r="0.35" fill="#777" stroke="none" stroke-width="0.5"/>
<circle cx="145.6" cy="298.8" r="0.35" fill="#777" stroke="none" stroke-width="0.5"/>
<circle cx="154.5" cy="308.7" r="0.35" fill="#777" stroke="none" stroke-width="0.5"/>
<circle cx="172.9" cy="384.7" r="0.35" fill="#777" stroke="none" stroke-width="0.5"/>
<circle cx="189.2" cy="312.7" r="0.35" fill="#777" stroke="none" stroke-width="0.5"/>
<circle cx="210.9" cy="366.9" r="0.35" fill="#777" stroke="none" stroke-width="0.5"/>
<circle cx="195.1" cy="376.6" r="0.35" fill="#777" stroke="none" stroke-width="0.5"/>
<circle cx="198.0" cy="366.3" r="0.35" fill="#777" stroke="none" stroke-width="0.5"/>
<circle cx="157.3" cy="383.2" r="0.35" fill="#777" stroke="none" stroke-width="0.5"/>
<circle cx="217.7" cy="310.9" r="0.35" fill="#777" stroke="none" stroke-width="0.5"/>
<circle cx="197.1" cy="359.7" r="0.35" fill="#777" stroke="none" stroke-width="0.5"/>
<circle cx="168.0" cy="343.4" r="0.35" fill="#777" stroke="none" stroke-width="0.5"/>
<circle cx="170.8" cy="378.2" r="0.35" fill="#777" stroke="none" stroke-width="0.5"/>
<circle cx="171.9" cy="370.0" r="0.35" fill="#777" stroke="none" stroke-width="0.5"/>
<circle cx="157.3" cy="374.5" r="0.35" fill="#777" stroke="none" stroke-width="0.5"/>
<circle cx="211.5" cy="337.3" r="0.35" fill="#777" stroke="none" stroke-width="0.5"/>
<circle cx="178.6" cy="377.8" r="0.35" fill="#777" stroke="none" stroke-width="0.5"/>
<circle cx="194.1" cy="339.6" r="0.35" fill="#777" stroke="none" stroke-width="0.5"/>
<circle cx="144.2" cy="325.3" r="0.35" fill="#777" stroke="none" stroke-width="0.5"/>
<circle cx="191.7" cy="311.3" r="0.35" fill="#777" stroke="none" stroke-width="0.5"/>
<circle cx="212.4" cy="320.3" r="0.35" fill="#777" stroke="none" stroke-width="0.5"/>
<circle cx="212.7" cy="324.0" r="0.35" fill="#777" stroke="none" stroke-width="0.5"/>
<circle cx="217.3" cy="358.9" r="0.35" fill="#777" stroke="none" stroke-width="0.5"/>
<circle cx="172.3" cy="342.3" r="0.35" fill="#777" stroke="none" stroke-width="0.5"/>
<circle cx="186.9" cy="348.5" r="0.35" fill="#777" stroke="none" stroke-width="0.5"/>
<circle cx="153.1" cy="315.0" r="0.35" fill="#777" stroke="none" stroke-width="0.5"/>
<circle cx="173.0" cy="379.1" r="0.35" fill="#777" stroke="none" stroke-width="0.5"/>
<circle cx="184.1" cy="303.3" r="0.35" fill="#777" stroke="none" stroke-width="0.5"/>
<circle cx="203.7" cy="360.7" r="0.35" fill="#777" stroke="none" stroke-width="0.5"/>
<circle cx="212.3" cy="313.5" r="0.35" fill="#777" stroke="none" stroke-width="0.5"/>
<circle cx="196.2" cy="301.8" r="0.35" fill="#777" stroke="none" stroke-width="0.5"/>
<circle cx="187.0" cy="320.7" r="0.35" fill="#777" stroke="none" stroke-width="0.5"/>
<circle cx="144.7" cy="373.9" r="0.35" fill="#777" stroke="none" stroke-width="0.5"/>
<circle cx="132.7" cy="342.7" r="0.35" fill="#777" stroke="none" stroke-width="0.5"/>
<circle cx="207.0" cy="318.3" r="0.35" fill="#777" stroke="none" stroke-width="0.5"/>
<circle cx="143.1" cy="374.3" r="0.35" fill="#777" stroke="none" stroke-width="0.5"/>
<circle cx="164.2" cy="359.9" r="0.35" fill="#777" stroke="none" stroke-width="0.5"/>
<circle cx="125.3" cy="328.6" r="0.35" fill="#777" stroke="none" stroke-width="0.5"/>
<circle cx="139.2" cy="356.0" r="0.35" fill="#777" stroke="none" stroke-width="0.5"/>
<circle cx="130.4" cy="380.9" r="0.35" fill="#777" stroke="none" stroke-width="0.5"/>
<circle cx="124.7" cy="361.0" r="0.35" fill="#777" stroke="none" stroke-width="0.5"/>
<circle cx="124.3" cy="319.2" r="0.35" fill="#777" stroke="none" stroke-width="0.5"/>
<circle cx="203.0" cy="310.5" r="0.35" fill="#777" stroke="none" stroke-width="0.5"/>
<circle cx="140.4" cy="357.7" r="0.35" fill="#777" stroke="none" stroke-width="0.5"/>
<circle cx="160.5" cy="300.5" r="0.35" fill="#777" stroke="none" stroke-width="0.5"/>
<circle cx="220.5" cy="310.0" r="0.35" fill="#777" stroke="none" stroke-width="0.5"/>
<circle cx="125.8" cy="327.0" r="0.35" fill="#777" stroke="none" stroke-width="0.5"/>
<circle cx="183.3" cy="362.1" r="0.35" fill="#777" stroke="none" stroke-width="0.5"/>
<circle cx="133.4" cy="326.4" r="0.35" fill="#777" stroke="none" stroke-width="0.5"/>
<circle cx="125.2" cy="336.2" r="0.35" fill="#777" stroke="none" stroke-width="0.5"/>
<circle cx="198.3" cy="361.9" r="0.35" fill="#777" stroke="none" stroke-width="0.5"/>
<circle cx="211.8" cy="363.3" r="0.35" fill="#777" stroke="none" stroke-width="0.5"/>
<circle cx="207.8" cy="358.9" r="0.35" fill="#777" stroke="none" stroke-width="0.5"/>
<circle cx="169.1" cy="316.6" r="0.35" fill="#777" stroke="none" stroke-width="0.5"/>
<circle cx="187.8" cy="324.6" r="0.35" fill="#777" stroke="none" stroke-width="0.5"/>
<circle cx="132.3" cy="336.2" r="0.35" fill="#777" stroke="none" stroke-width="0.5"/>
<circle cx="209.1" cy="307.9" r="0.35" fill="#777" stroke="none" stroke-width="0.5"/>
<circle cx="180.3" cy="331.3" r="0.35" fill="#777" stroke="none" stroke-width="0.5"/>
<circle cx="173.3" cy="309.3" r="0.35" fill="#777" stroke="none" stroke-width="0.5"/>
<circle cx="217.5" cy="319.5" r="0.35" fill="#777" stroke="none" stroke-width="0.5"/>
<circle cx="182.4" cy="333.7" r="0.35" fill="#777" stroke="none" stroke-width="0.5"/>
<circle cx="124.0" cy="345.9" r="0.35" fill="#777" stroke="none" stroke-width="0.5"/>
<circle cx="136.1" cy="301.7" r="0.35" fill="#777" stroke="none" stroke-width="0.5"/>
<circle cx="125.5" cy="310.9" r="0.35" fill="#777" stroke="none" stroke-width="0.5"/>
<circle cx="131.7" cy="352.7" r="0.35" fill="#777" stroke="none" stroke-width="0.5"/>
<circle cx="172.7" cy="383.4" r="0.35" fill="#777" stroke="none" stroke-width="0.5"/>
<circle cx="215.0" cy="384.4" r="0.35" fill="#777" stroke="none" stroke-width="0.5"/>
<circle cx="145.3" cy="335.9" r="0.35" fill="#777" stroke="none" stroke-width="0.5"/>
<circle cx="147.1" cy="348.8" r="0.35" fill="#777" stroke="none" stroke-width="0.5"/>
<circle cx="184.2" cy="367.2" r="0.35" fill="#777" stroke="none" stroke-width="0.5"/>
<circle cx="192.6" cy="319.3" r="0.35" fill="#777" stroke="none" stroke-width="0.5"/>
<circle cx="164.2" cy="343.1" r="0.35" fill="#777" stroke="none" stroke-width="0.5"/>
<circle cx="122.6" cy="299.8" r="0.35" fill="#777" stroke="none" stroke-width="0.5"/>
<circle cx="162.8" cy="306.5" r="0.35" fill="#777" stroke="none" stroke-width="0.5"/>
<circle cx="194.1" cy="317.9" r="0.35" fill="#777" stroke="none" stroke-width="0.5"/>
<circle cx="132.1" cy="312.7" r="0.35" fill="#777" stroke="none" stroke-width="0.5"/>
<circle cx="145.2" cy="315.8" r="0.35" fill="#777" stroke="none" stroke-width="0.5"/>
<rect x="122.2" y="297.0" width="99.60000000000001" height="87.80000000000001" fill="#fff" stroke="none" stroke-width="0.6" filter="url(#fNoise)" opacity="0.7"/>
</g>
<text x="215.3" y="378.4" font-size="9.3" fill="#fff" stroke="#fff" stroke-width="0.18" text-anchor="end">ZnF<tspan dy="1.86" font-size="6.51">2</tspan><tspan dy="-1.86" font-size="0.1">&#8203;</tspan>@Al</text>
<g clip-path="url(#cS2)">
<rect x="224.2" y="297.0" width="100.0" height="87.80000000000001" fill="#636363" stroke="none" stroke-width="0.6"/>
<g filter="url(#fBlur06)">
<ellipse cx="270.5" cy="330.0" rx="5.9" ry="7.9" fill="#6b6b6b" stroke="#4c4c4c" stroke-width="0.55"/>
<ellipse cx="225.6" cy="341.1" rx="8.8" ry="5.3" fill="#6b6b6b" stroke="#4c4c4c" stroke-width="0.55"/>
<ellipse cx="279.4" cy="350.8" rx="5.5" ry="6.3" fill="#6b6b6b" stroke="#4c4c4c" stroke-width="0.55"/>
<ellipse cx="294.1" cy="336.7" rx="8.1" ry="5.5" fill="#6b6b6b" stroke="#4c4c4c" stroke-width="0.55"/>
<ellipse cx="248.4" cy="307.5" rx="7.3" ry="8.1" fill="#6b6b6b" stroke="#4c4c4c" stroke-width="0.55"/>
<ellipse cx="283.0" cy="364.3" rx="6.8" ry="7.5" fill="#6b6b6b" stroke="#4c4c4c" stroke-width="0.55"/>
<ellipse cx="235.0" cy="322.9" rx="7.9" ry="7.4" fill="#6b6b6b" stroke="#4c4c4c" stroke-width="0.55"/>
<ellipse cx="266.4" cy="305.5" rx="6.4" ry="5.7" fill="#6b6b6b" stroke="#4c4c4c" stroke-width="0.55"/>
<ellipse cx="252.6" cy="367.4" rx="6.1" ry="8.0" fill="#6b6b6b" stroke="#4c4c4c" stroke-width="0.55"/>
<ellipse cx="311.3" cy="302.7" rx="6.8" ry="6.6" fill="#6b6b6b" stroke="#4c4c4c" stroke-width="0.55"/>
<ellipse cx="227.3" cy="334.4" rx="8.8" ry="5.4" fill="#6b6b6b" stroke="#4c4c4c" stroke-width="0.55"/>
<ellipse cx="283.6" cy="308.4" rx="7.6" ry="8.0" fill="#6b6b6b" stroke="#4c4c4c" stroke-width="0.55"/>
<ellipse cx="244.9" cy="298.7" rx="5.7" ry="6.8" fill="#6b6b6b" stroke="#4c4c4c" stroke-width="0.55"/>
<ellipse cx="226.7" cy="305.3" rx="7.2" ry="8.1" fill="#6b6b6b" stroke="#4c4c4c" stroke-width="0.55"/>
<ellipse cx="266.2" cy="332.1" rx="7.8" ry="5.3" fill="#6b6b6b" stroke="#4c4c4c" stroke-width="0.55"/>
<ellipse cx="281.9" cy="312.8" rx="7.7" ry="8.2" fill="#6b6b6b" stroke="#4c4c4c" stroke-width="0.55"/>
<ellipse cx="230.3" cy="345.6" rx="7.7" ry="5.5" fill="#6b6b6b" stroke="#4c4c4c" stroke-width="0.55"/>
<ellipse cx="251.3" cy="383.3" rx="9.2" ry="5.4" fill="#6b6b6b" stroke="#4c4c4c" stroke-width="0.55"/>
<ellipse cx="294.3" cy="379.5" rx="6.2" ry="7.0" fill="#6b6b6b" stroke="#4c4c4c" stroke-width="0.55"/>
<ellipse cx="229.2" cy="329.4" rx="7.9" ry="7.0" fill="#6b6b6b" stroke="#4c4c4c" stroke-width="0.55"/>
<ellipse cx="301.0" cy="305.4" rx="6.7" ry="7.9" fill="#6b6b6b" stroke="#4c4c4c" stroke-width="0.55"/>
<ellipse cx="282.3" cy="336.7" rx="6.9" ry="8.3" fill="#6b6b6b" stroke="#4c4c4c" stroke-width="0.55"/>
<ellipse cx="281.4" cy="299.6" rx="8.4" ry="6.1" fill="#6b6b6b" stroke="#4c4c4c" stroke-width="0.55"/>
<ellipse cx="267.6" cy="316.3" rx="7.0" ry="6.1" fill="#6b6b6b" stroke="#4c4c4c" stroke-width="0.55"/>
<ellipse cx="233.7" cy="351.9" rx="5.7" ry="7.6" fill="#6b6b6b" stroke="#4c4c4c" stroke-width="0.55"/>
<ellipse cx="227.5" cy="364.9" rx="8.4" ry="6.7" fill="#6b6b6b" stroke="#4c4c4c" stroke-width="0.55"/>
<ellipse cx="294.7" cy="319.3" rx="8.2" ry="6.4" fill="#6b6b6b" stroke="#4c4c4c" stroke-width="0.55"/>
<ellipse cx="247.7" cy="380.6" rx="6.9" ry="6.2" fill="#6b6b6b" stroke="#4c4c4c" stroke-width="0.55"/>
<ellipse cx="309.4" cy="329.6" rx="7.9" ry="5.6" fill="#6b6b6b" stroke="#4c4c4c" stroke-width="0.55"/>
<ellipse cx="307.8" cy="320.2" rx="5.5" ry="8.3" fill="#6b6b6b" stroke="#4c4c4c" stroke-width="0.55"/>
<ellipse cx="242.0" cy="379.1" rx="9.1" ry="7.0" fill="#6b6b6b" stroke="#4c4c4c" stroke-width="0.55"/>
<ellipse cx="226.2" cy="303.2" rx="6.1" ry="6.3" fill="#6b6b6b" stroke="#4c4c4c" stroke-width="0.55"/>
<ellipse cx="285.0" cy="380.8" rx="6.7" ry="5.5" fill="#6b6b6b" stroke="#4c4c4c" stroke-width="0.55"/>
<ellipse cx="280.2" cy="309.8" rx="5.7" ry="6.9" fill="#6b6b6b" stroke="#4c4c4c" stroke-width="0.55"/>
<ellipse cx="293.3" cy="303.6" rx="7.1" ry="7.3" fill="#6b6b6b" stroke="#4c4c4c" stroke-width="0.55"/>
<ellipse cx="300.0" cy="330.8" rx="8.7" ry="5.6" fill="#6b6b6b" stroke="#4c4c4c" stroke-width="0.55"/>
<ellipse cx="295.2" cy="364.1" rx="8.7" ry="6.6" fill="#6b6b6b" stroke="#4c4c4c" stroke-width="0.55"/>
<ellipse cx="234.7" cy="302.1" rx="7.4" ry="5.6" fill="#6b6b6b" stroke="#4c4c4c" stroke-width="0.55"/>
<ellipse cx="286.8" cy="305.2" rx="8.3" ry="5.7" fill="#6b6b6b" stroke="#4c4c4c" stroke-width="0.55"/>
<ellipse cx="226.3" cy="313.1" rx="7.1" ry="6.9" fill="#6b6b6b" stroke="#4c4c4c" stroke-width="0.55"/>
<ellipse cx="263.3" cy="331.3" rx="5.3" ry="3.7" fill="#3e3e3e" stroke="none" stroke-width="0.5"/>
<ellipse cx="278.2" cy="337.9" rx="5.0" ry="3.3" fill="#3e3e3e" stroke="none" stroke-width="0.5"/>
<ellipse cx="255.8" cy="351.2" rx="3.3" ry="5.8" fill="#3e3e3e" stroke="none" stroke-width="0.5"/>
<ellipse cx="298.2" cy="304.6" rx="3.7" ry="3.7" fill="#3e3e3e" stroke="none" stroke-width="0.5"/>
<ellipse cx="309.9" cy="327.9" rx="3.0" ry="3.0" fill="#3e3e3e" stroke="none" stroke-width="0.5"/>
<ellipse cx="274.9" cy="308.8" rx="3.0" ry="2.3" fill="#3e3e3e" stroke="none" stroke-width="0.5"/>
<ellipse cx="303.2" cy="316.3" rx="2.3" ry="2.7" fill="#3e3e3e" stroke="none" stroke-width="0.5"/>
<ellipse cx="228.3" cy="336.3" rx="2.3" ry="3.0" fill="#3e3e3e" stroke="none" stroke-width="0.5"/>
<ellipse cx="289.9" cy="366.2" rx="1.7" ry="2.3" fill="#3e3e3e" stroke="none" stroke-width="0.5"/>
<ellipse cx="269.9" cy="366.2" rx="2.0" ry="1.7" fill="#3e3e3e" stroke="none" stroke-width="0.5"/>
<ellipse cx="321.5" cy="347.9" rx="1.7" ry="2.3" fill="#3e3e3e" stroke="none" stroke-width="0.5"/>
</g>
<circle cx="274.9" cy="351.6" r="0.55" fill="#e6e6e6" stroke="none" stroke-width="0.5"/>
<circle cx="280.7" cy="350.4" r="0.55" fill="#e6e6e6" stroke="none" stroke-width="0.5"/>
<circle cx="285.7" cy="354.2" r="0.55" fill="#e6e6e6" stroke="none" stroke-width="0.5"/>
<circle cx="307.4" cy="332.1" r="0.55" fill="#e6e6e6" stroke="none" stroke-width="0.5"/>
<circle cx="284.1" cy="333.8" r="0.55" fill="#e6e6e6" stroke="none" stroke-width="0.5"/>
<circle cx="318.2" cy="354.6" r="0.55" fill="#e6e6e6" stroke="none" stroke-width="0.5"/>
<circle cx="240.8" cy="326.3" r="0.55" fill="#e6e6e6" stroke="none" stroke-width="0.5"/>
<circle cx="301.5" cy="309.6" r="0.55" fill="#e6e6e6" stroke="none" stroke-width="0.5"/>
<circle cx="316.5" cy="342.1" r="0.55" fill="#e6e6e6" stroke="none" stroke-width="0.5"/>
<circle cx="276.6" cy="320.5" r="0.55" fill="#e6e6e6" stroke="none" stroke-width="0.5"/>
<circle cx="262.4" cy="305.0" r="0.55" fill="#e6e6e6" stroke="none" stroke-width="0.5"/>
<circle cx="321.5" cy="304.6" r="0.55" fill="#e6e6e6" stroke="none" stroke-width="0.5"/>
<rect x="224.2" y="297.0" width="100.0" height="87.80000000000001" fill="#fff" stroke="none" stroke-width="0.6" filter="url(#fNoise)" opacity="0.7"/>
</g>
<text x="317.3" y="378.4" font-size="9.3" fill="#fff" stroke="#fff" stroke-width="0.18" text-anchor="end">BiF<tspan dy="1.86" font-size="6.51">3</tspan><tspan dy="-1.86" font-size="0.1">&#8203;</tspan>@Al</text>
<text x="283.0" y="373.5" font-size="6" fill="#fff" stroke="#fff" stroke-width="0.18">&#8217;</text>
<text x="73.2" y="396.2" font-size="10.0" fill="#111" stroke="#111" stroke-width="0.18" text-anchor="middle">Needle-like</text>
<text x="73.2" y="408.1" font-size="10.0" fill="#111" stroke="#111" stroke-width="0.18" text-anchor="middle">nucleation</text>
<text x="174.8" y="396.9" font-size="10.0" fill="#111" stroke="#111" stroke-width="0.18" text-anchor="middle">Uneven spherical</text>
<text x="174.8" y="408.5" font-size="10.0" fill="#111" stroke="#111" stroke-width="0.18" text-anchor="middle">nucleation</text>
<text x="276.2" y="396.9" font-size="10.0" fill="#111" stroke="#111" stroke-width="0.18" text-anchor="middle">Even spherical</text>
<text x="276.2" y="408.5" font-size="10.0" fill="#111" stroke="#111" stroke-width="0.18" text-anchor="middle">nucleation</text>
<g clip-path="url(#cN)">
<line x1="27.0" y1="417.1" x2="47.3" y2="437.4" stroke="#a9a9a9" stroke-width="6.1"/>
<line x1="50.0" y1="412.6" x2="36.2" y2="437.4" stroke="#a9a9a9" stroke-width="2.9"/>
<line x1="59.6" y1="417.1" x2="59.6" y2="437.4" stroke="#a9a9a9" stroke-width="4.8"/>
<line x1="70.4" y1="426.8" x2="101.5" y2="437.4" stroke="#a9a9a9" stroke-width="5.6"/>
<line x1="82.4" y1="410.7" x2="76.6" y2="437.4" stroke="#a9a9a9" stroke-width="2.0"/>
<line x1="103.3" y1="419.5" x2="89.0" y2="437.4" stroke="#a9a9a9" stroke-width="3.6"/>
<line x1="100.9" y1="414.7" x2="90.5" y2="433.2" stroke="#a9a9a9" stroke-width="2.2"/>
<line x1="116.2" y1="413.9" x2="102.8" y2="437.4" stroke="#a9a9a9" stroke-width="1.3"/>
</g>
<rect x="19.5" y="436.3" width="99.6" height="7.3" fill="#242424" stroke="none" stroke-width="0.6"/>
<path d="M127.39999999999999,436.6 A12.2,6.6 0 0 1 151.79999999999998,436.6 Z" fill="#a9a9a9" stroke="none" stroke-width="0.6"/>
<path d="M156.7,436.6 A4.3,3.6 0 0 1 165.3,436.6 Z" fill="#a9a9a9" stroke="none" stroke-width="0.6"/>
<path d="M169.2,436.6 A10.8,5.6 0 0 1 190.8,436.6 Z" fill="#a9a9a9" stroke="none" stroke-width="0.6"/>
<path d="M192.79999999999998,436.6 A3.3,2.6 0 0 1 199.4,436.6 Z" fill="#a9a9a9" stroke="none" stroke-width="0.6"/>
<path d="M204.29999999999998,436.6 A4.3,5.4 0 0 1 212.9,436.6 Z" fill="#a9a9a9" stroke="none" stroke-width="0.6"/>
<rect x="122.2" y="436.3" width="98.9" height="7.3" fill="#242424" stroke="none" stroke-width="0.6"/>
<path d="M226.3,436.6 A4.1,3.5 0 0 1 234.5,436.6 Z" fill="#a9a9a9" stroke="none" stroke-width="0.6"/>
<path d="M234.05,436.6 A4.1,3.5 0 0 1 242.25,436.6 Z" fill="#a9a9a9" stroke="none" stroke-width="0.6"/>
<path d="M241.8,436.6 A4.1,3.5 0 0 1 250.0,436.6 Z" fill="#a9a9a9" stroke="none" stroke-width="0.6"/>
<path d="M249.55,436.6 A4.1,3.5 0 0 1 257.75,436.6 Z" fill="#a9a9a9" stroke="none" stroke-width="0.6"/>
<path d="M257.29999999999995,436.6 A4.1,3.5 0 0 1 265.5,436.6 Z" fill="#a9a9a9" stroke="none" stroke-width="0.6"/>
<path d="M265.04999999999995,436.6 A4.1,3.5 0 0 1 273.25,436.6 Z" fill="#a9a9a9" stroke="none" stroke-width="0.6"/>
<path d="M272.79999999999995,436.6 A4.1,3.5 0 0 1 281.0,436.6 Z" fill="#a9a9a9" stroke="none" stroke-width="0.6"/>
<path d="M280.54999999999995,436.6 A4.1,3.5 0 0 1 288.75,436.6 Z" fill="#a9a9a9" stroke="none" stroke-width="0.6"/>
<path d="M288.29999999999995,436.6 A4.1,3.5 0 0 1 296.5,436.6 Z" fill="#a9a9a9" stroke="none" stroke-width="0.6"/>
<path d="M296.04999999999995,436.6 A4.1,3.5 0 0 1 304.25,436.6 Z" fill="#a9a9a9" stroke="none" stroke-width="0.6"/>
<path d="M303.79999999999995,436.6 A4.1,3.5 0 0 1 312.0,436.6 Z" fill="#a9a9a9" stroke="none" stroke-width="0.6"/>
<path d="M311.54999999999995,436.6 A4.1,3.5 0 0 1 319.75,436.6 Z" fill="#a9a9a9" stroke="none" stroke-width="0.6"/>
<rect x="224.0" y="436.3" width="99.2" height="7.3" fill="#242424" stroke="none" stroke-width="0.6"/>
<rect x="2.5" y="452.8" width="331.0" height="117.4" fill="none" stroke="#1c3466" stroke-width="0.8" rx="5" stroke-dasharray="2 1"/>
<text x="8.6" y="470.2" font-size="12.5" fill="#000" font-weight="bold">h</text>
<g clip-path="url(#cH0)">
<rect x="21.4" y="457.4" width="98.30000000000001" height="88.60000000000002" fill="url(#gCy1)" stroke="none" stroke-width="0.6"/>
<g filter="url(#fB3_0)">
<rect x="21.4" y="509.0" width="64.97050301155787" height="11" fill="#3358da" stroke="none" stroke-width="0.6"/>
<ellipse cx="24.5" cy="513.6" rx="5.2" ry="6.5" fill="#2a35c4" stroke="none" stroke-width="0.5"/>
<ellipse cx="42.4" cy="517.7" rx="4.2" ry="4.2" fill="#2c3ccc" stroke="none" stroke-width="0.5"/>
<ellipse cx="68.5" cy="516.0" rx="9.0" ry="5.5" fill="#2832c0" stroke="none" stroke-width="0.5"/>
<ellipse cx="79.0" cy="516.9" rx="4.9" ry="4.2" fill="#2832c0" stroke="none" stroke-width="0.5"/>
<ellipse cx="56.3" cy="517.7" rx="3.6" ry="3.9" fill="#2c3ccc" stroke="none" stroke-width="0.5"/>
<ellipse cx="111.6" cy="517.7" rx="3.3" ry="3.9" fill="#2c3ccc" stroke="none" stroke-width="0.5"/>
<ellipse cx="118.9" cy="516.0" rx="3.3" ry="5.5" fill="#2a35c4" stroke="none" stroke-width="0.5"/>
<ellipse cx="86.4" cy="518.5" rx="2.3" ry="2.9" fill="#3050d8" stroke="none" stroke-width="0.5"/>
<ellipse cx="38.3" cy="517.7" rx="1.6" ry="1.6" fill="#1c2ab8" stroke="none" stroke-width="0.5"/>
<ellipse cx="57.1" cy="517.7" rx="1.6" ry="1.6" fill="#1c2ab8" stroke="none" stroke-width="0.5"/>
<ellipse cx="110.8" cy="517.7" rx="1.6" ry="1.6" fill="#1c2ab8" stroke="none" stroke-width="0.5"/>
</g>
<g filter="url(#fB6_5)">
<ellipse cx="103.5" cy="502.2" rx="22" ry="28" fill="#48e4c8" stroke="none" stroke-width="0.5" opacity="0.95"/>
<ellipse cx="117.3" cy="503.8" rx="8" ry="12" fill="#40dce0" stroke="none" stroke-width="0.5" opacity="0.8"/>
</g>
<g filter="url(#fB4_5)">
<ellipse cx="99.4" cy="512.0" rx="13" ry="15" fill="#9df060" stroke="none" stroke-width="0.5"/>
<ellipse cx="48.9" cy="517.7" rx="8" ry="7" fill="#6ee8a0" stroke="none" stroke-width="0.5" opacity="0.9"/>
</g>
<g filter="url(#fB3_0)">
<ellipse cx="99.4" cy="513.3" rx="12.5" ry="14.5" fill="#ffe020" stroke="none" stroke-width="0.5"/>
<ellipse cx="48.9" cy="518.2" rx="8.2" ry="7.4" fill="#ffe020" stroke="none" stroke-width="0.5"/>
<rect x="21.4" y="526.0" width="98.30000000000001" height="3" fill="#ffd020" stroke="none" stroke-width="0.6"/>
<ellipse cx="22.9" cy="525.8" rx="5" ry="3.4" fill="#ff6a00" stroke="none" stroke-width="0.5"/>
</g>
<g filter="url(#fB2_0)">
<ellipse cx="99.4" cy="515.6" rx="11.2" ry="12.8" fill="#ff5a10" stroke="none" stroke-width="0.5"/>
<ellipse cx="48.9" cy="519.1" rx="7.2" ry="6.6" fill="#ff5a10" stroke="none" stroke-width="0.5"/>
<ellipse cx="35.1" cy="523.4" rx="6.1812795051277885" ry="6.0865472895979" fill="#ff9a10" stroke="none" stroke-width="0.5" opacity="0.9"/>
<ellipse cx="61.1" cy="522.9" rx="6.034771284388736" ry="6.526071951815061" fill="#ff9a10" stroke="none" stroke-width="0.5" opacity="0.9"/>
<ellipse cx="75.0" cy="523.4" rx="7.060328829562104" ry="6.0865472895979" fill="#ff9a10" stroke="none" stroke-width="0.5" opacity="0.9"/>
<ellipse cx="89.6" cy="527.8" rx="3.3976233110857885" ry="2.1308253296434487" fill="#ff9a10" stroke="none" stroke-width="0.5" opacity="0.9"/>
<ellipse cx="114.0" cy="523.4" rx="4.423180856259157" ry="6.0865472895979" fill="#ff9a10" stroke="none" stroke-width="0.5" opacity="0.9"/>
<ellipse cx="122.2" cy="522.9" rx="4.423180856259157" ry="6.526071951815061" fill="#ff9a10" stroke="none" stroke-width="0.5" opacity="0.9"/>
</g>
<g filter="url(#fB1_2)">
<ellipse cx="98.9" cy="518.8" rx="10.6" ry="12.2" fill="#8c0a08" stroke="none" stroke-width="0.5"/>
<ellipse cx="48.9" cy="520.9" rx="6.4" ry="5.8" fill="#96100a" stroke="none" stroke-width="0.5"/>
<rect x="87.99837213088068" y="523.2" width="21.162298551196486" height="6" fill="#8c0a08" stroke="none" stroke-width="0.6"/>
<rect x="64.39426990069998" y="524.8" width="25.23197134950351" height="4.2" fill="#b81808" stroke="none" stroke-width="0.6"/>
<rect x="39.162298551196486" y="524.8" width="19.534429431873676" height="4.2" fill="#b81808" stroke="none" stroke-width="0.6"/>
<rect x="21.4" y="525.6" width="8.80901839492105" height="3.4" fill="#e03808" stroke="none" stroke-width="0.6"/>
<rect x="111.60247436106137" y="521.5" width="10" height="8" fill="#8c0a08" stroke="none" stroke-width="0.6"/>
</g>
<path d="M29.56,528.8 C32.60,527.45 32.33,519.79 35.09,519.79 C37.86,519.79 37.58,527.45 40.63,528.8 Z M42.42,528.8 C46.00,526.76 45.67,515.23 48.93,515.23 C52.19,515.23 51.86,526.76 55.44,528.8 Z M55.77,528.8 C58.72,527.38 58.45,519.30 61.14,519.30 C63.82,519.30 63.56,527.38 66.51,528.8 Z M68.46,528.8 C72.05,527.45 71.72,519.79 74.98,519.79 C78.23,519.79 77.91,527.45 81.49,528.8 Z M87.18,528.8 C88.53,528.11 88.41,524.18 89.63,524.18 C90.85,524.18 90.73,528.11 92.07,528.8 Z M91.91,528.8 C96.02,526.40 95.65,512.79 99.39,512.79 C103.14,512.79 102.76,526.40 106.88,528.8 Z M110.46,528.8 C112.43,527.45 112.25,519.79 114.04,519.79 C115.83,519.79 115.66,527.45 117.63,528.8 Z M118.60,528.8 C120.57,527.38 120.39,519.30 122.18,519.30 C123.97,519.30 123.80,527.38 125.76,528.8 Z " fill="#f8c5ae" stroke="#402018" stroke-width="0.5"/>
<rect x="21.4" y="528.6" width="98.30000000000001" height="17.399999999999977" fill="#f8c5ae" stroke="none" stroke-width="0.6"/>
<line x1="21.4" y1="528.6" x2="29.395083835259648" y2="528.6" stroke="#402018" stroke-width="0.4"/>
<line x1="21.4" y1="535.6" x2="119.7" y2="535.6" stroke="#6a5048" stroke-width="0.5"/>
</g>
<rect x="21.4" y="457.4" width="98.30000000000001" height="88.60000000000002" fill="none" stroke="#777" stroke-width="0.5"/>
<text x="114.2" y="470.0" font-size="9.3" fill="#fff" stroke="#fff" stroke-width="0.18" text-anchor="end">Bare Al</text>
<g clip-path="url(#cH1)">
<rect x="123.6" y="457.4" width="98.9" height="88.60000000000002" fill="url(#gCy)" stroke="none" stroke-width="0.6"/>
<g filter="url(#fB4_5)">
<ellipse cx="155.3" cy="523" rx="6.5" ry="9" fill="#3e90ec" stroke="none" stroke-width="0.5"/>
<ellipse cx="190.5" cy="523" rx="6.5" ry="9" fill="#3e90ec" stroke="none" stroke-width="0.5"/>
</g>
<g filter="url(#fB3_0)">
<ellipse cx="155.3" cy="528" rx="4.6" ry="4.6" fill="#2a44d0" stroke="none" stroke-width="0.5"/>
<ellipse cx="190.5" cy="528" rx="4.6" ry="4.6" fill="#2a44d0" stroke="none" stroke-width="0.5"/>
<ellipse cx="131.5" cy="523.0" rx="7" ry="5" fill="#7ef0a0" stroke="none" stroke-width="0.5"/>
<ellipse cx="173.6" cy="523.0" rx="7" ry="5" fill="#7ef0a0" stroke="none" stroke-width="0.5"/>
<ellipse cx="212.5" cy="523.0" rx="7" ry="5" fill="#7ef0a0" stroke="none" stroke-width="0.5"/>
</g>
<g filter="url(#fB1_2)">
<ellipse cx="131.5" cy="525.2" rx="4.0" ry="1.9" fill="#e8f050" stroke="none" stroke-width="0.5"/>
<ellipse cx="173.6" cy="525.2" rx="4.0" ry="1.9" fill="#e8f050" stroke="none" stroke-width="0.5"/>
<ellipse cx="212.5" cy="525.2" rx="4.0" ry="1.9" fill="#e8f050" stroke="none" stroke-width="0.5"/>
</g>
<path d="M123.6,527.5 C126.6,525.6 128,525.2 132.3,525.3 C140,525.4 147,530.0 155.3,530.0 C163,530.0 166,525.7 173.6,525.7 C181,525.7 184,530.0 190.5,530.0 C198,530.0 204,525.2 212,525.2 C217,525.2 220,526.6 222.5,528.5 L222.5,546.0 L123.6,546.0 Z" fill="#f8c5ae" stroke="#402018" stroke-width="0.5"/>
<line x1="123.6" y1="535.6" x2="222.5" y2="535.6" stroke="#6a5048" stroke-width="0.5"/>
</g>
<rect x="123.6" y="457.4" width="98.9" height="88.60000000000002" fill="none" stroke="#777" stroke-width="0.5"/>
<text x="220.0" y="470.2" font-size="9.3" fill="#fff" stroke="#fff" stroke-width="0.18" text-anchor="end">ZnF<tspan dy="1.86" font-size="6.51">2</tspan><tspan dy="-1.86" font-size="0.1">&#8203;</tspan>@Al</text>
<g clip-path="url(#cH2)">
<rect x="225.4" y="457.4" width="100.9" height="88.60000000000002" fill="url(#gCy)" stroke="none" stroke-width="0.6"/>
<g filter="url(#fB6_5)">
<ellipse cx="225.4" cy="528" rx="14" ry="16" fill="#3a90ec" stroke="none" stroke-width="0.5"/>
<ellipse cx="326.3" cy="528" rx="14" ry="16" fill="#3a90ec" stroke="none" stroke-width="0.5"/>
<ellipse cx="275.85" cy="522" rx="24" ry="8" fill="#34d4f4" stroke="none" stroke-width="0.5"/>
</g>
<path d="M225.4,529.6 Q275.85,523.6 326.3,529.6 L326.3,546.0 L225.4,546.0 Z" fill="#f8c5ae" stroke="#402018" stroke-width="0.5"/>
<line x1="225.4" y1="535.6" x2="326.3" y2="535.6" stroke="#6a5048" stroke-width="0.5"/>
</g>
<rect x="225.4" y="457.4" width="100.9" height="88.60000000000002" fill="none" stroke="#777" stroke-width="0.5"/>
<text x="321.0" y="470.2" font-size="9.3" fill="#fff" stroke="#fff" stroke-width="0.18" text-anchor="end">BiF<tspan dy="1.86" font-size="6.51">3</tspan><tspan dy="-1.86" font-size="0.1">&#8203;</tspan>@Al</text>
<rect x="95.0" y="551.0" width="151.4" height="6.3" fill="url(#gJet)" stroke="none" stroke-width="0.6"/>
<line x1="95.0" y1="555.6" x2="95.0" y2="557.3" stroke="#222" stroke-width="0.4"/>
<line x1="120.23333333333333" y1="555.6" x2="120.23333333333333" y2="557.3" stroke="#222" stroke-width="0.4"/>
<line x1="145.46666666666667" y1="555.6" x2="145.46666666666667" y2="557.3" stroke="#222" stroke-width="0.4"/>
<line x1="170.7" y1="555.6" x2="170.7" y2="557.3" stroke="#222" stroke-width="0.4"/>
<line x1="195.93333333333334" y1="555.6" x2="195.93333333333334" y2="557.3" stroke="#222" stroke-width="0.4"/>
<line x1="221.16666666666669" y1="555.6" x2="221.16666666666669" y2="557.3" stroke="#222" stroke-width="0.4"/>
<line x1="246.4" y1="555.6" x2="246.4" y2="557.3" stroke="#222" stroke-width="0.4"/>
<text x="96.3" y="566.0" font-size="8.3" fill="#111" stroke="#111" stroke-width="0.18" text-anchor="middle">0</text>
<text x="145.2" y="566.0" font-size="8.3" fill="#111" stroke="#111" stroke-width="0.18" text-anchor="middle">10</text>
<text x="196.0" y="566.0" font-size="8.3" fill="#111" stroke="#111" stroke-width="0.18" text-anchor="middle">20</text>
<text x="245.2" y="566.0" font-size="8.3" fill="#111" stroke="#111" stroke-width="0.18" text-anchor="middle">30</text>
<text x="259.6" y="560.2" font-size="8.5" fill="#111" stroke="#111" stroke-width="0.18">Unit: A m<tspan dy="-3.06" font-size="5.95">&#8722;2</tspan><tspan dy="3.06" font-size="0.1">&#8203;</tspan></text>
<rect x="337.6" y="292.2" width="324.5" height="278.0" fill="none" stroke="#1c3466" stroke-width="0.8" rx="5" stroke-dasharray="2 1"/>
<rect x="345.7" y="300.3" width="2.3" height="2.3" fill="#000" stroke="none" stroke-width="0.6"/>
<rect x="345.7" y="303.9" width="2.3" height="7.0" fill="#000" stroke="none" stroke-width="0.6"/>
<text x="354.7" y="306.9" font-size="8.3" fill="#111" stroke="#111" stroke-width="0.18">Step I: Charge transfer</text>
<text x="448.0" y="306.9" font-size="8.3" fill="#111" stroke="#111" stroke-width="0.18">Step II: Na adsorption</text>
<text x="561.5" y="306.9" font-size="8.3" fill="#111" stroke="#111" stroke-width="0.18">Step III: Na growth</text>
<rect x="348.2" y="377.2" width="302.2" height="17.5" fill="url(#gBarGy)" stroke="none" stroke-width="0.6"/>
<text x="643.6" y="388.6" font-size="8.3" fill="#fff" font-weight="bold" text-anchor="end">Bare Al</text>
<text x="387.2" y="389.20000000000005" font-size="6.6" fill="#fff" stroke="#fff" stroke-width="0.18">e<tspan dy="-2.38" font-size="4.62">&#8722;</tspan><tspan dy="2.38" font-size="0.1">&#8203;</tspan></text>
<circle cx="395.3" cy="358.3" r="5.2" fill="url(#gSph)" stroke="none" stroke-width="0.5"/>
<text x="392.2" y="350.9" font-size="7.0" fill="#1878c8" font-weight="bold" text-anchor="middle">Na<tspan dy="-2.52" font-size="4.9">+</tspan><tspan dy="2.52" font-size="0.1">&#8203;</tspan></text>
<line x1="395.0" y1="382.0" x2="395.0" y2="369.1" stroke="#111" stroke-width="0.7"/>
<path d="M392.9,370.6 L395.0,366.6 L397.1,370.6 Z" fill="#111" stroke="none" stroke-width="0.6"/>
<path d="M417.8,353.2 C421.3,339.5 444.8,337.5 452.2,350.0" fill="none" stroke="#16305c" stroke-width="0.9"/>
<path d="M453.8,353.2 L449.2,349.2 L453.2,347.0 Z" fill="#16305c" stroke="none" stroke-width="0.6"/>
<path d="M509.7,353.2 C513.2,339.5 536.7,337.5 544.1,350.0" fill="none" stroke="#16305c" stroke-width="0.9"/>
<path d="M545.7,353.2 L541.1,349.2 L545.1,347.0 Z" fill="#16305c" stroke="none" stroke-width="0.6"/>
<text x="423.0" y="368.2" font-size="8.3" fill="#111" stroke="#111" stroke-width="0.18">Low E<tspan dy="1.66" font-size="5.81">b</tspan><tspan dy="-1.66" font-size="0.1">&#8203;</tspan></text>
<text x="446.6" y="322.9" font-size="8.3" fill="#111" stroke="#111" stroke-width="0.18">Sluggish nucleation</text>
<circle cx="471.1" cy="341.8" r="5.4" fill="url(#gSph)" stroke="none" stroke-width="0.5"/>
<text x="471.1" y="332.7" font-size="7.0" fill="#1878c8" font-weight="bold" text-anchor="middle">Na</text>
<rect x="465.45000000000005" y="349.5" width="11.3" height="1.8" fill="#b4c7e7" stroke="none" stroke-width="0.6"/>
<rect x="466.1" y="355.5" width="10.0" height="1.8" fill="#b4c7e7" stroke="none" stroke-width="0.6"/>
<rect x="466.75" y="361.40000000000003" width="8.7" height="1.8" fill="#b4c7e7" stroke="none" stroke-width="0.6"/>
<rect x="467.40000000000003" y="367.3" width="7.4" height="1.8" fill="#b4c7e7" stroke="none" stroke-width="0.6"/>
<rect x="468.1" y="373.1" width="6.0" height="1.8" fill="#b4c7e7" stroke="none" stroke-width="0.6"/>
<circle cx="489.6" cy="341.8" r="5.4" fill="url(#gSph)" stroke="none" stroke-width="0.5"/>
<text x="489.6" y="332.7" font-size="7.0" fill="#1878c8" font-weight="bold" text-anchor="middle">Na</text>
<rect x="483.95000000000005" y="349.5" width="11.3" height="1.8" fill="#b4c7e7" stroke="none" stroke-width="0.6"/>
<rect x="484.6" y="355.5" width="10.0" height="1.8" fill="#b4c7e7" stroke="none" stroke-width="0.6"/>
<rect x="485.25" y="361.40000000000003" width="8.7" height="1.8" fill="#b4c7e7" stroke="none" stroke-width="0.6"/>
<rect x="485.90000000000003" y="367.3" width="7.4" height="1.8" fill="#b4c7e7" stroke="none" stroke-width="0.6"/>
<rect x="486.6" y="373.1" width="6.0" height="1.8" fill="#b4c7e7" stroke="none" stroke-width="0.6"/>
<text x="556.8" y="370.2" font-size="8.3" fill="#111" stroke="#111" stroke-width="0.18" text-anchor="end">Further plating</text>
<text x="608.3" y="371.6" font-size="8.3" fill="#111" stroke="#111" stroke-width="0.18">Dendritic Na</text>
<circle cx="572.3" cy="371.5" r="5.2" fill="url(#gSph)" stroke="none" stroke-width="0.5"/>
<circle cx="575.4" cy="361.5" r="5.2" fill="url(#gSph)" stroke="none" stroke-width="0.5"/>
<circle cx="578.6" cy="352.3" r="5.2" fill="url(#gSph)" stroke="none" stroke-width="0.5"/>
<circle cx="581.7" cy="342.40000000000003" r="5.2" fill="url(#gSph)" stroke="none" stroke-width="0.5"/>
<circle cx="576.5" cy="333.20000000000005" r="5.2" fill="url(#gSph)" stroke="none" stroke-width="0.5"/>
<circle cx="571.0" cy="324.8" r="5.2" fill="url(#gSph)" stroke="none" stroke-width="0.5"/>
<circle cx="565.2" cy="316.90000000000003" r="5.2" fill="url(#gSph)" stroke="none" stroke-width="0.5"/>
<circle cx="599.6" cy="371.5" r="5.2" fill="url(#gSph)" stroke="none" stroke-width="0.5"/>
<circle cx="601.7" cy="362.1" r="5.2" fill="url(#gSph)" stroke="none" stroke-width="0.5"/>
<circle cx="604.3" cy="353.1" r="5.2" fill="url(#gSph)" stroke="none" stroke-width="0.5"/>
<circle cx="606.4" cy="343.1" r="5.2" fill="url(#gSph)" stroke="none" stroke-width="0.5"/>
<circle cx="608.8" cy="332.6" r="5.2" fill="url(#gSph)" stroke="none" stroke-width="0.5"/>
<rect x="348.2" y="456.0" width="302.2" height="17.4" fill="url(#gBarGn)" stroke="none" stroke-width="0.6"/>
<text x="643.6" y="468.0" font-size="8.3" fill="#fff" font-weight="bold" text-anchor="end">ZnF<tspan dy="1.66" font-size="5.81">2</tspan><tspan dy="-1.66" font-size="0.1">&#8203;</tspan>@Al</text>
<text x="387.2" y="468.6" font-size="6.6" fill="#fff" stroke="#fff" stroke-width="0.18">e<tspan dy="-2.38" font-size="4.62">&#8722;</tspan><tspan dy="2.38" font-size="0.1">&#8203;</tspan></text>
<circle cx="395.3" cy="435.2" r="5.2" fill="url(#gSph)" stroke="none" stroke-width="0.5"/>
<text x="392.2" y="425.8" font-size="7.0" fill="#1878c8" font-weight="bold" text-anchor="middle">Na<tspan dy="-2.52" font-size="4.9">+</tspan><tspan dy="2.52" font-size="0.1">&#8203;</tspan></text>
<line x1="395.0" y1="462.0" x2="395.0" y2="447.5" stroke="#111" stroke-width="0.7"/>
<path d="M392.9,449.0 L395.0,445.0 L397.1,449.0 Z" fill="#111" stroke="none" stroke-width="0.6"/>
<path d="M420.4,433.6 C423.9,420.1 447.4,418.1 454.79999999999995,430.40000000000003" fill="none" stroke="#16305c" stroke-width="0.9"/>
<path d="M456.4,433.6 L451.79999999999995,429.6 L455.79999999999995,427.40000000000003 Z" fill="#16305c" stroke="none" stroke-width="0.6"/>
<path d="M512.4,433.6 C515.9,419.7 539.4,417.7 546.8,430.40000000000003" fill="none" stroke="#16305c" stroke-width="0.9"/>
<path d="M548.4,433.6 L543.8,429.6 L547.8,427.40000000000003 Z" fill="#16305c" stroke="none" stroke-width="0.6"/>
<text x="423.8" y="450.3" font-size="8.3" fill="#111" stroke="#111" stroke-width="0.18">High E<tspan dy="1.66" font-size="5.81">b</tspan><tspan dy="-1.66" font-size="0.1">&#8203;</tspan></text>
<text x="451.9" y="414.8" font-size="8.3" fill="#111" stroke="#111" stroke-width="0.18">Fast nucleation</text>
<circle cx="472.6" cy="436.3" r="5.2" fill="url(#gSph)" stroke="none" stroke-width="0.5"/>
<text x="472.6" y="427.9" font-size="7.0" fill="#1878c8" font-weight="bold" text-anchor="middle">Na</text>
<rect x="467.1" y="443.34999999999997" width="11.0" height="2.1" fill="#1f3864" stroke="none" stroke-width="0.6"/>
<rect x="467.1" y="448.05" width="11.0" height="2.1" fill="#1f3864" stroke="none" stroke-width="0.6"/>
<rect x="467.1" y="452.75" width="11.0" height="2.1" fill="#1f3864" stroke="none" stroke-width="0.6"/>
<circle cx="487.1" cy="436.3" r="5.2" fill="url(#gSph)" stroke="none" stroke-width="0.5"/>
<text x="487.1" y="427.9" font-size="7.0" fill="#1878c8" font-weight="bold" text-anchor="middle">Na</text>
<rect x="481.6" y="443.34999999999997" width="11.0" height="2.1" fill="#1f3864" stroke="none" stroke-width="0.6"/>
<rect x="481.6" y="448.05" width="11.0" height="2.1" fill="#1f3864" stroke="none" stroke-width="0.6"/>
<rect x="481.6" y="452.75" width="11.0" height="2.1" fill="#1f3864" stroke="none" stroke-width="0.6"/>
<text x="576.0" y="449.0" font-size="8.3" fill="#111" stroke="#111" stroke-width="0.18" text-anchor="end">High lattice mismatch</text>
<text x="565.4" y="423.5" font-size="8.3" fill="#111" stroke="#111" stroke-width="0.18">Over-aggregated Na</text>
<ellipse cx="599.2" cy="444.0" rx="7.5" ry="8.5" fill="#2450a4" stroke="none" stroke-width="0.5"/>
<circle cx="600.7" cy="430.8" r="4.8" fill="url(#gSph)" stroke="none" stroke-width="0.5"/>
<circle cx="592.2" cy="436.6" r="4.8" fill="url(#gSph)" stroke="none" stroke-width="0.5"/>
<circle cx="608.0" cy="436.6" r="4.8" fill="url(#gSph)" stroke="none" stroke-width="0.5"/>
<circle cx="589.9" cy="442.4" r="4.8" fill="url(#gSph)" stroke="none" stroke-width="0.5"/>
<circle cx="609.1" cy="443.4" r="4.8" fill="url(#gSph)" stroke="none" stroke-width="0.5"/>
<circle cx="599.8" cy="437.8" r="4.8" fill="url(#gSph)" stroke="none" stroke-width="0.5"/>
<circle cx="589.3" cy="449.0" r="4.8" fill="url(#gSph)" stroke="none" stroke-width="0.5"/>
<circle cx="598.6" cy="444.8" r="4.8" fill="url(#gSph)" stroke="none" stroke-width="0.5"/>
<circle cx="607.4" cy="450.8" r="4.8" fill="url(#gSph)" stroke="none" stroke-width="0.5"/>
<circle cx="598.0" cy="451.2" r="4.8" fill="url(#gSph)" stroke="none" stroke-width="0.5"/>
<rect x="348.2" y="546.3" width="302.2" height="17.7" fill="url(#gBarPk)" stroke="none" stroke-width="0.6"/>
<text x="643.6" y="558.0" font-size="8.3" fill="#fff" font-weight="bold" text-anchor="end">BiF<tspan dy="1.66" font-size="5.81">3</tspan><tspan dy="-1.66" font-size="0.1">&#8203;</tspan>@Al</text>
<text x="387.2" y="558.6" font-size="6.6" fill="#fff" stroke="#fff" stroke-width="0.18">e<tspan dy="-2.38" font-size="4.62">&#8722;</tspan><tspan dy="2.38" font-size="0.1">&#8203;</tspan></text>
<circle cx="395.3" cy="525.2" r="5.2" fill="url(#gSph)" stroke="none" stroke-width="0.5"/>
<text x="392.2" y="516.1" font-size="7.0" fill="#1878c8" font-weight="bold" text-anchor="middle">Na<tspan dy="-2.52" font-size="4.9">+</tspan><tspan dy="2.52" font-size="0.1">&#8203;</tspan></text>
<line x1="395.0" y1="545.2" x2="395.0" y2="537.1" stroke="#111" stroke-width="0.7"/>
<path d="M392.9,538.6 L395.0,534.6 L397.1,538.6 Z" fill="#111" stroke="none" stroke-width="0.6"/>
<path d="M422.2,523.4 C425.7,509.9 449.0,507.9 456.4,520.1999999999999" fill="none" stroke="#16305c" stroke-width="0.9"/>
<path d="M458.0,523.4 L453.4,519.4 L457.4,517.1999999999999 Z" fill="#16305c" stroke="none" stroke-width="0.6"/>
<path d="M514.2,523.4 C517.7,509.9 541.2,507.9 548.6,520.1999999999999" fill="none" stroke="#16305c" stroke-width="0.9"/>
<path d="M550.2,523.4 L545.6,519.4 L549.6,517.1999999999999 Z" fill="#16305c" stroke="none" stroke-width="0.6"/>
<text x="425.6" y="538.4" font-size="8.3" fill="#111" stroke="#111" stroke-width="0.18">High E<tspan dy="1.66" font-size="5.81">b</tspan><tspan dy="-1.66" font-size="0.1">&#8203;</tspan></text>
<text x="451.9" y="505.6" font-size="8.3" fill="#111" stroke="#111" stroke-width="0.18">Fast nucleation</text>
<circle cx="473.6" cy="526.2" r="5.2" fill="url(#gSph)" stroke="none" stroke-width="0.5"/>
<text x="473.6" y="516.9" font-size="7.0" fill="#1878c8" font-weight="bold" text-anchor="middle">Na</text>
<rect x="468.20000000000005" y="533.5500000000001" width="10.8" height="2.1" fill="#1f3864" stroke="none" stroke-width="0.6"/>
<rect x="468.20000000000005" y="538.0500000000001" width="10.8" height="2.1" fill="#1f3864" stroke="none" stroke-width="0.6"/>
<rect x="468.20000000000005" y="542.5500000000001" width="10.8" height="2.1" fill="#1f3864" stroke="none" stroke-width="0.6"/>
<circle cx="488.0" cy="526.2" r="5.2" fill="url(#gSph)" stroke="none" stroke-width="0.5"/>
<text x="488.0" y="516.9" font-size="7.0" fill="#1878c8" font-weight="bold" text-anchor="middle">Na</text>
<rect x="482.6" y="533.5500000000001" width="10.8" height="2.1" fill="#1f3864" stroke="none" stroke-width="0.6"/>
<rect x="482.6" y="538.0500000000001" width="10.8" height="2.1" fill="#1f3864" stroke="none" stroke-width="0.6"/>
<rect x="482.6" y="542.5500000000001" width="10.8" height="2.1" fill="#1f3864" stroke="none" stroke-width="0.6"/>
<text x="576.5" y="535.3" font-size="8.3" fill="#111" stroke="#111" stroke-width="0.18" text-anchor="end">Low lattice mismatch</text>
<text x="574.1" y="519.5" font-size="8.3" fill="#111" stroke="#111" stroke-width="0.18">Uniform Na growth</text>
<circle cx="583.8" cy="532.5" r="5.0" fill="url(#gSph)" stroke="none" stroke-width="0.5"/>
<circle cx="593.6" cy="532.5" r="5.0" fill="url(#gSph)" stroke="none" stroke-width="0.5"/>
<circle cx="603.6" cy="532.5" r="5.0" fill="url(#gSph)" stroke="none" stroke-width="0.5"/>
<circle cx="613.8" cy="532.5" r="5.0" fill="url(#gSph)" stroke="none" stroke-width="0.5"/>
<circle cx="623.8" cy="532.5" r="5.0" fill="url(#gSph)" stroke="none" stroke-width="0.5"/>
<circle cx="578.0" cy="541.0" r="5.0" fill="url(#gSph)" stroke="none" stroke-width="0.5"/>
<circle cx="588.5" cy="541.0" r="5.0" fill="url(#gSph)" stroke="none" stroke-width="0.5"/>
<circle cx="598.8" cy="541.0" r="5.0" fill="url(#gSph)" stroke="none" stroke-width="0.5"/>
<circle cx="608.9" cy="541.0" r="5.0" fill="url(#gSph)" stroke="none" stroke-width="0.5"/>
<circle cx="619.3" cy="541.0" r="5.0" fill="url(#gSph)" stroke="none" stroke-width="0.5"/>
<circle cx="629.5" cy="541.0" r="5.0" fill="url(#gSph)" stroke="none" stroke-width="0.5"/>
</svg>
</body></html>
